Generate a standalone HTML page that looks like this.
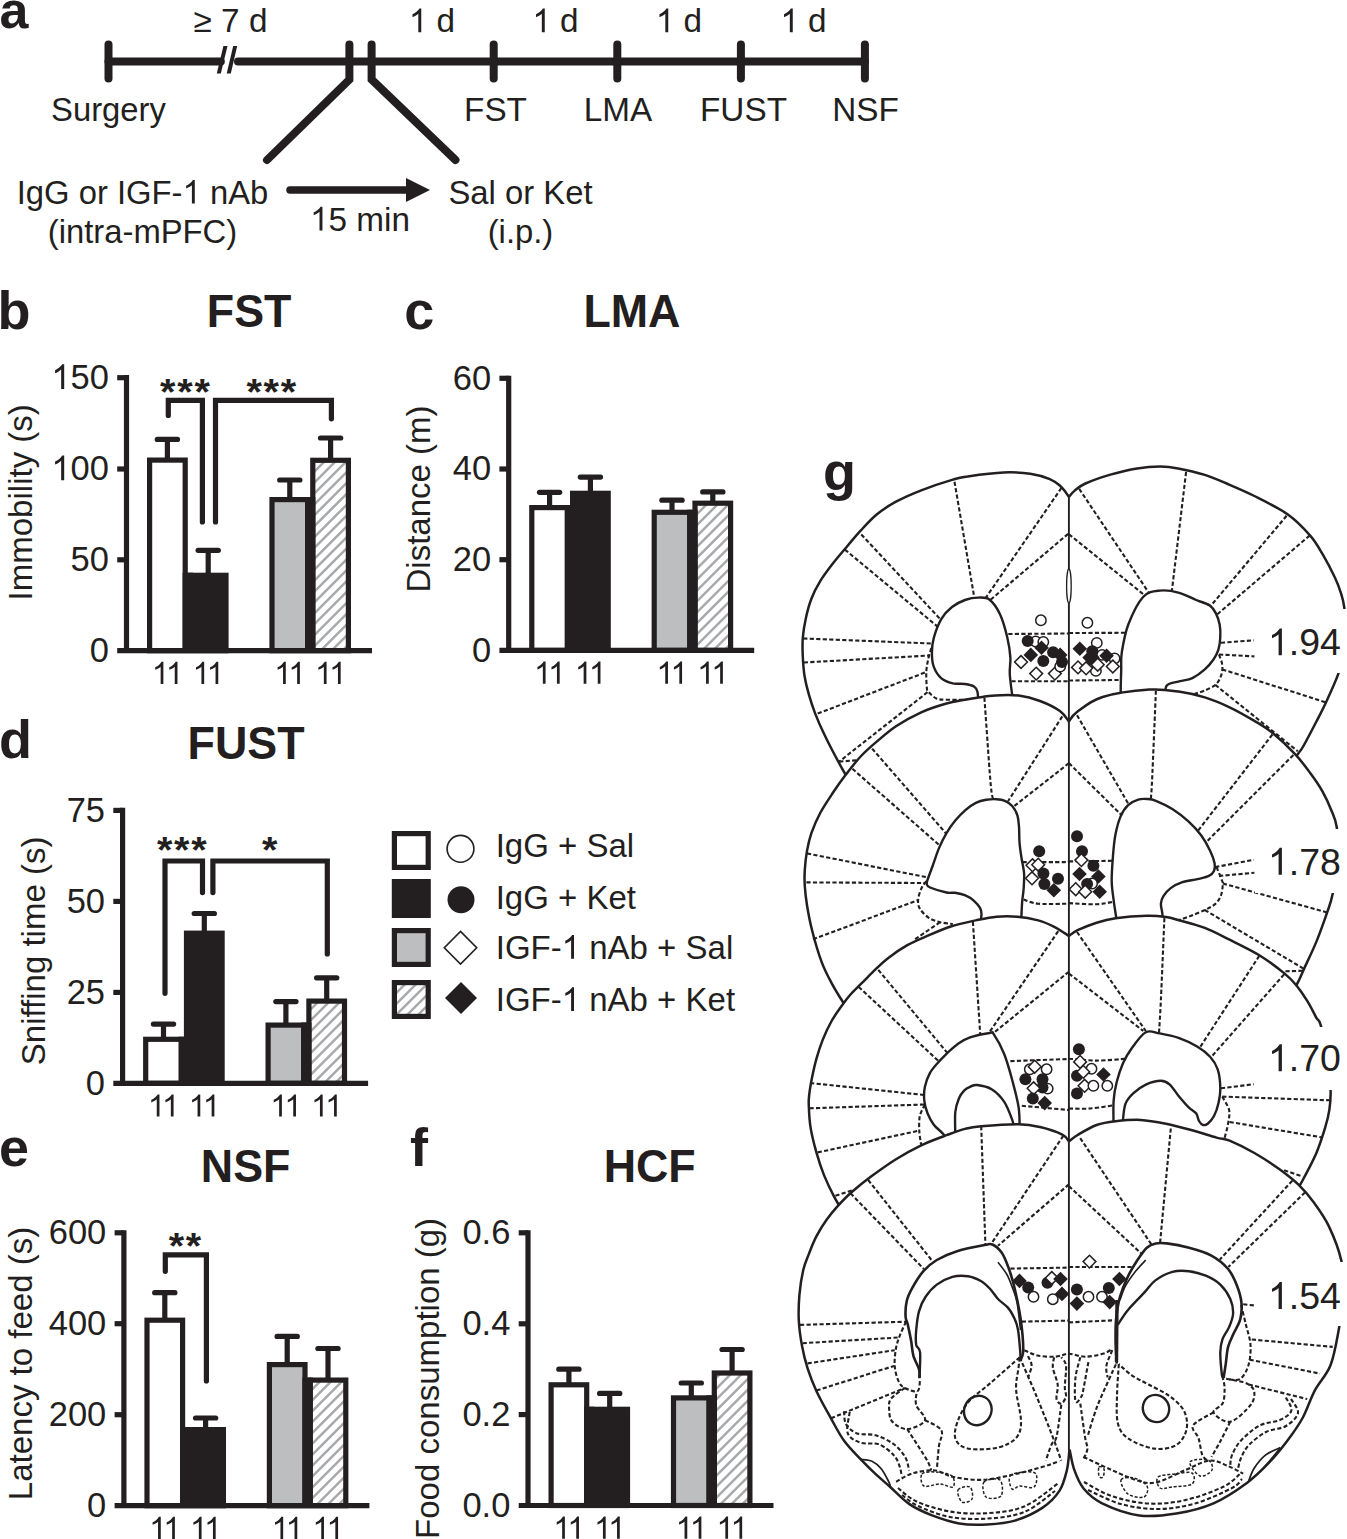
<!DOCTYPE html>
<html><head><meta charset="utf-8"><style>
html,body{margin:0;padding:0;background:#fff;overflow:hidden;}
svg{display:block;}
text{font-family:'Liberation Sans',sans-serif;white-space:pre;}
</style></head><body>
<svg width="1347" height="1539" viewBox="0 0 1347 1539">
<defs>
<pattern id="h" patternUnits="userSpaceOnUse" width="7.7" height="7.7" patternTransform="rotate(-45)">
<rect width="7.7" height="7.7" fill="#fff"/>
<line x1="0" y1="3.85" x2="7.7" y2="3.85" stroke="#a7a9ac" stroke-width="2.0"/>
</pattern>
</defs>
<rect width="1347" height="1539" fill="#fff"/>
<g stroke="#231f20" stroke-width="8" stroke-linecap="round" fill="none">
<line x1="108.5" y1="61.5" x2="220.8" y2="61.5" stroke-linecap="round"/>
<line x1="238" y1="61.5" x2="865" y2="61.5" stroke-linecap="round"/>
<line x1="108.5" y1="44.5" x2="108.5" y2="78.5"/>
<line x1="493.7" y1="44.5" x2="493.7" y2="78.5"/>
<line x1="617.3" y1="44.5" x2="617.3" y2="78.5"/>
<line x1="740.9" y1="44.5" x2="740.9" y2="78.5"/>
<line x1="864.9" y1="44.5" x2="864.9" y2="78.5"/>
<polyline points="349.4,44.5 349.4,79.5 267,160" stroke-linejoin="miter"/>
<polyline points="371.6,44.5 371.6,79.5 455.5,160" stroke-linejoin="miter"/>
<line x1="290" y1="190" x2="410" y2="190" stroke-width="7.5"/>
</g>
<polygon points="406,178 430,190 406,202" fill="#231f20"/>
<polygon points="223.4,46 227.5,46 220.8,73.6 216.8,73.6" fill="#231f20"/>
<polygon points="233.2,46 237.2,46 230.8,73.6 226.7,73.6" fill="#231f20"/>
<text x="-0.5" y="28.4" style="font-weight:bold;font-size:52px" fill="#231f20">a</text>
<text x="230.5" y="31.5" style="font-size:33.3px;" text-anchor="middle" fill="#231f20">&#8805; 7 d</text>
<path d="M763,0L583,0L583,1147C540,1106 483,1064 413,1023C343,982 280,952 223,933L223,1107C324,1154 412,1212 487,1279C562,1346 615,1412 646,1466L763,1466Z" transform="translate(408.85,32.30) scale(0.01626,-0.01626)" fill="#231f20"/>
<text x="427.37" y="32.3" style="font-size:33.3px;" fill="#231f20" xml:space="preserve"> d</text>
<path d="M763,0L583,0L583,1147C540,1106 483,1064 413,1023C343,982 280,952 223,933L223,1107C324,1154 412,1212 487,1279C562,1346 615,1412 646,1466L763,1466Z" transform="translate(532.35,32.30) scale(0.01626,-0.01626)" fill="#231f20"/>
<text x="550.87" y="32.3" style="font-size:33.3px;" fill="#231f20" xml:space="preserve"> d</text>
<path d="M763,0L583,0L583,1147C540,1106 483,1064 413,1023C343,982 280,952 223,933L223,1107C324,1154 412,1212 487,1279C562,1346 615,1412 646,1466L763,1466Z" transform="translate(655.85,32.30) scale(0.01626,-0.01626)" fill="#231f20"/>
<text x="674.37" y="32.3" style="font-size:33.3px;" fill="#231f20" xml:space="preserve"> d</text>
<path d="M763,0L583,0L583,1147C540,1106 483,1064 413,1023C343,982 280,952 223,933L223,1107C324,1154 412,1212 487,1279C562,1346 615,1412 646,1466L763,1466Z" transform="translate(780.35,32.30) scale(0.01626,-0.01626)" fill="#231f20"/>
<text x="798.87" y="32.3" style="font-size:33.3px;" fill="#231f20" xml:space="preserve"> d</text>
<text x="108.5" y="121.2" style="font-size:32.8px;" text-anchor="middle" fill="#231f20">Surgery</text>
<text x="495.5" y="121.2" style="font-size:33.3px;" text-anchor="middle" fill="#231f20">FST</text>
<text x="618.0" y="121.2" style="font-size:33.3px;" text-anchor="middle" fill="#231f20">LMA</text>
<text x="743.5" y="121.2" style="font-size:33.3px;" text-anchor="middle" fill="#231f20">FUST</text>
<text x="865.5" y="121.2" style="font-size:33.3px;" text-anchor="middle" fill="#231f20">NSF</text>
<text x="16.72" y="203.5" style="font-size:32.8px;" fill="#231f20" xml:space="preserve">IgG or IGF-</text>
<path d="M763,0L583,0L583,1147C540,1106 483,1064 413,1023C343,982 280,952 223,933L223,1107C324,1154 412,1212 487,1279C562,1346 615,1412 646,1466L763,1466Z" transform="translate(182.56,203.50) scale(0.01602,-0.01602)" fill="#231f20"/>
<text x="200.80" y="203.5" style="font-size:32.8px;" fill="#231f20" xml:space="preserve"> nAb</text>
<text x="142.5" y="243.3" style="font-size:32.8px;" text-anchor="middle" fill="#231f20">(intra-mPFC)</text>
<text x="520.5" y="203.5" style="font-size:32.8px;" text-anchor="middle" fill="#231f20">Sal or Ket</text>
<text x="520.5" y="243.3" style="font-size:32.8px;" text-anchor="middle" fill="#231f20">(i.p.)</text>
<path d="M763,0L583,0L583,1147C540,1106 483,1064 413,1023C343,982 280,952 223,933L223,1107C324,1154 412,1212 487,1279C562,1346 615,1412 646,1466L763,1466Z" transform="translate(310.03,230.50) scale(0.01626,-0.01626)" fill="#231f20"/>
<text x="328.55" y="230.5" style="font-size:33.3px;" fill="#231f20" xml:space="preserve">5 min</text>
<g stroke="#231f20" stroke-width="5.2" fill="none">
<line x1="126.5" y1="375.09999999999997" x2="126.5" y2="650.7"/>
<line x1="117.2" y1="377.7" x2="126.5" y2="377.7"/>
<line x1="117.2" y1="469" x2="126.5" y2="469"/>
<line x1="117.2" y1="559.8" x2="126.5" y2="559.8"/>
</g>
<g stroke="#231f20" stroke-width="5.2" fill="none">
<line x1="167.4" y1="460.5" x2="167.4" y2="439.4"/>
<line x1="157.3" y1="439.4" x2="177.5" y2="439.4" stroke-linecap="round"/>
<line x1="208.2" y1="575.7" x2="208.2" y2="550.3"/>
<line x1="198.1" y1="550.3" x2="218.3" y2="550.3" stroke-linecap="round"/>
<line x1="289.8" y1="500.0" x2="289.8" y2="480.0"/>
<line x1="279.7" y1="480.0" x2="299.9" y2="480.0" stroke-linecap="round"/>
<line x1="330.6" y1="460.7" x2="330.6" y2="438.0"/>
<line x1="320.5" y1="438.0" x2="340.7" y2="438.0" stroke-linecap="round"/>
</g>
<rect x="149.6" y="460.1" width="35.6" height="190.6" fill="#ffffff" stroke="#231f20" stroke-width="5.2"/>
<rect x="190.4" y="575.3" width="35.6" height="75.4" fill="#231f20" stroke="#231f20" stroke-width="5.2"/>
<rect x="272.0" y="499.6" width="35.6" height="151.1" fill="#bcbec0" stroke="#231f20" stroke-width="5.2"/>
<clipPath id="hc1"><rect x="312.80" y="460.30" width="35.60" height="190.40"/></clipPath>
<rect x="312.80" y="460.30" width="35.60" height="190.40" fill="#fff"/>
<path d="M67.90,652.70L262.30,458.30M78.80,652.70L273.20,458.30M89.70,652.70L284.10,458.30M100.60,652.70L295.00,458.30M111.50,652.70L305.90,458.30M122.40,652.70L316.80,458.30M133.30,652.70L327.70,458.30M144.20,652.70L338.60,458.30M155.10,652.70L349.50,458.30M166.00,652.70L360.40,458.30M176.90,652.70L371.30,458.30M187.80,652.70L382.20,458.30M198.70,652.70L393.10,458.30M209.60,652.70L404.00,458.30M220.50,652.70L414.90,458.30M231.40,652.70L425.80,458.30M242.30,652.70L436.70,458.30M253.20,652.70L447.60,458.30M264.10,652.70L458.50,458.30M275.00,652.70L469.40,458.30M285.90,652.70L480.30,458.30M296.80,652.70L491.20,458.30M307.70,652.70L502.10,458.30M318.60,652.70L513.00,458.30M329.50,652.70L523.90,458.30M340.40,652.70L534.80,458.30M351.30,652.70L545.70,458.30" stroke="#a7a9ac" stroke-width="2.5" fill="none" clip-path="url(#hc1)"/>
<rect x="312.8" y="460.3" width="35.6" height="190.4" fill="none" stroke="#231f20" stroke-width="5.2"/>
<rect x="182.60" y="572.70" width="10.40" height="78.00" fill="#231f20"/>
<rect x="305.00" y="497.00" width="10.40" height="153.70" fill="#231f20"/>
<line x1="117.2" y1="650.7" x2="372.0" y2="650.7" stroke="#231f20" stroke-width="5.2"/>
<path d="M763,0L583,0L583,1147C540,1106 483,1064 413,1023C343,982 280,952 223,933L223,1107C324,1154 412,1212 487,1279C562,1346 615,1412 646,1466L763,1466Z" transform="translate(51.34,388.90) scale(0.01685,-0.01685)" fill="#231f20"/>
<text x="70.53" y="388.9" style="font-size:34.5px;" fill="#231f20" xml:space="preserve">50</text>
<path d="M763,0L583,0L583,1147C540,1106 483,1064 413,1023C343,982 280,952 223,933L223,1107C324,1154 412,1212 487,1279C562,1346 615,1412 646,1466L763,1466Z" transform="translate(51.34,480.20) scale(0.01685,-0.01685)" fill="#231f20"/>
<text x="70.53" y="480.2" style="font-size:34.5px;" fill="#231f20" xml:space="preserve">00</text>
<text x="108.9" y="571.0" style="font-size:34.5px;" text-anchor="end" fill="#231f20">50</text>
<text x="108.9" y="661.9" style="font-size:34.5px;" text-anchor="end" fill="#231f20">0</text>
<path d="M763,0L583,0L583,1147C540,1106 483,1064 413,1023C343,982 280,952 223,933L223,1107C324,1154 412,1212 487,1279C562,1346 615,1412 646,1466L763,1466Z" transform="translate(151.82,684.00) scale(0.01514,-0.01514)" fill="#231f20"/>
<path d="M763,0L583,0L583,1147C540,1106 483,1064 413,1023C343,982 280,952 223,933L223,1107C324,1154 412,1212 487,1279C562,1346 615,1412 646,1466L763,1466Z" transform="translate(165.92,684.00) scale(0.01514,-0.01514)" fill="#231f20"/>
<path d="M763,0L583,0L583,1147C540,1106 483,1064 413,1023C343,982 280,952 223,933L223,1107C324,1154 412,1212 487,1279C562,1346 615,1412 646,1466L763,1466Z" transform="translate(192.62,684.00) scale(0.01514,-0.01514)" fill="#231f20"/>
<path d="M763,0L583,0L583,1147C540,1106 483,1064 413,1023C343,982 280,952 223,933L223,1107C324,1154 412,1212 487,1279C562,1346 615,1412 646,1466L763,1466Z" transform="translate(206.72,684.00) scale(0.01514,-0.01514)" fill="#231f20"/>
<path d="M763,0L583,0L583,1147C540,1106 483,1064 413,1023C343,982 280,952 223,933L223,1107C324,1154 412,1212 487,1279C562,1346 615,1412 646,1466L763,1466Z" transform="translate(274.22,684.00) scale(0.01514,-0.01514)" fill="#231f20"/>
<path d="M763,0L583,0L583,1147C540,1106 483,1064 413,1023C343,982 280,952 223,933L223,1107C324,1154 412,1212 487,1279C562,1346 615,1412 646,1466L763,1466Z" transform="translate(288.32,684.00) scale(0.01514,-0.01514)" fill="#231f20"/>
<path d="M763,0L583,0L583,1147C540,1106 483,1064 413,1023C343,982 280,952 223,933L223,1107C324,1154 412,1212 487,1279C562,1346 615,1412 646,1466L763,1466Z" transform="translate(315.02,684.00) scale(0.01514,-0.01514)" fill="#231f20"/>
<path d="M763,0L583,0L583,1147C540,1106 483,1064 413,1023C343,982 280,952 223,933L223,1107C324,1154 412,1212 487,1279C562,1346 615,1412 646,1466L763,1466Z" transform="translate(329.12,684.00) scale(0.01514,-0.01514)" fill="#231f20"/>
<text transform="translate(32.2,502.3) rotate(-90)" text-anchor="middle" style="font-size:33px" fill="#231f20">Immobility (s)</text>
<polyline points="168.3,415.5 168.3,400.3 202.4,400.3 202.4,522" fill="none" stroke="#231f20" stroke-width="5.2" stroke-linejoin="miter" stroke-linecap="round"/>
<polyline points="215.5,522 215.5,400.3 331.4,400.3 331.4,418.8" fill="none" stroke="#231f20" stroke-width="5.2" stroke-linejoin="miter" stroke-linecap="round"/>
<text transform="translate(167.80,404.69) scale(0.9,0.847)" text-anchor="middle" style="font-weight:bold;font-size:44px" fill="#231f20">*</text>
<text transform="translate(184.95,404.69) scale(0.9,0.847)" text-anchor="middle" style="font-weight:bold;font-size:44px" fill="#231f20">*</text>
<text transform="translate(202.10,404.69) scale(0.9,0.847)" text-anchor="middle" style="font-weight:bold;font-size:44px" fill="#231f20">*</text>
<text transform="translate(254.10,404.69) scale(0.9,0.847)" text-anchor="middle" style="font-weight:bold;font-size:44px" fill="#231f20">*</text>
<text transform="translate(271.25,404.69) scale(0.9,0.847)" text-anchor="middle" style="font-weight:bold;font-size:44px" fill="#231f20">*</text>
<text transform="translate(288.40,404.69) scale(0.9,0.847)" text-anchor="middle" style="font-weight:bold;font-size:44px" fill="#231f20">*</text>
<g stroke="#231f20" stroke-width="5.2" fill="none">
<line x1="508.7" y1="375.7" x2="508.7" y2="650.4"/>
<line x1="499.4" y1="378.3" x2="508.7" y2="378.3"/>
<line x1="499.4" y1="469" x2="508.7" y2="469"/>
<line x1="499.4" y1="559.7" x2="508.7" y2="559.7"/>
</g>
<g stroke="#231f20" stroke-width="5.2" fill="none">
<line x1="549.6" y1="508.0" x2="549.6" y2="492.3"/>
<line x1="539.5" y1="492.3" x2="559.7" y2="492.3" stroke-linecap="round"/>
<line x1="590.4" y1="493.7" x2="590.4" y2="477.1"/>
<line x1="580.3" y1="477.1" x2="600.5" y2="477.1" stroke-linecap="round"/>
<line x1="672.0" y1="512.7" x2="672.0" y2="500.2"/>
<line x1="661.9" y1="500.2" x2="682.1" y2="500.2" stroke-linecap="round"/>
<line x1="712.8" y1="503.6" x2="712.8" y2="491.9"/>
<line x1="702.7" y1="491.9" x2="722.9" y2="491.9" stroke-linecap="round"/>
</g>
<rect x="531.8" y="507.6" width="35.6" height="142.8" fill="#ffffff" stroke="#231f20" stroke-width="5.2"/>
<rect x="572.6" y="493.3" width="35.6" height="157.1" fill="#231f20" stroke="#231f20" stroke-width="5.2"/>
<rect x="654.2" y="512.3" width="35.6" height="138.1" fill="#bcbec0" stroke="#231f20" stroke-width="5.2"/>
<clipPath id="hc2"><rect x="695.00" y="503.20" width="35.60" height="147.20"/></clipPath>
<rect x="695.00" y="503.20" width="35.60" height="147.20" fill="#fff"/>
<path d="M493.30,652.40L644.50,501.20M504.20,652.40L655.40,501.20M515.10,652.40L666.30,501.20M526.00,652.40L677.20,501.20M536.90,652.40L688.10,501.20M547.80,652.40L699.00,501.20M558.70,652.40L709.90,501.20M569.60,652.40L720.80,501.20M580.50,652.40L731.70,501.20M591.40,652.40L742.60,501.20M602.30,652.40L753.50,501.20M613.20,652.40L764.40,501.20M624.10,652.40L775.30,501.20M635.00,652.40L786.20,501.20M645.90,652.40L797.10,501.20M656.80,652.40L808.00,501.20M667.70,652.40L818.90,501.20M678.60,652.40L829.80,501.20M689.50,652.40L840.70,501.20M700.40,652.40L851.60,501.20M711.30,652.40L862.50,501.20M722.20,652.40L873.40,501.20M733.10,652.40L884.30,501.20" stroke="#a7a9ac" stroke-width="2.5" fill="none" clip-path="url(#hc2)"/>
<rect x="695.0" y="503.2" width="35.6" height="147.2" fill="none" stroke="#231f20" stroke-width="5.2"/>
<rect x="564.80" y="505.00" width="10.40" height="145.40" fill="#231f20"/>
<rect x="687.20" y="509.70" width="10.40" height="140.70" fill="#231f20"/>
<line x1="499.4" y1="650.4" x2="754.2" y2="650.4" stroke="#231f20" stroke-width="5.2"/>
<text x="491.1" y="389.5" style="font-size:34.5px;" text-anchor="end" fill="#231f20">60</text>
<text x="491.1" y="480.2" style="font-size:34.5px;" text-anchor="end" fill="#231f20">40</text>
<text x="491.1" y="570.9" style="font-size:34.5px;" text-anchor="end" fill="#231f20">20</text>
<text x="491.1" y="661.6" style="font-size:34.5px;" text-anchor="end" fill="#231f20">0</text>
<path d="M763,0L583,0L583,1147C540,1106 483,1064 413,1023C343,982 280,952 223,933L223,1107C324,1154 412,1212 487,1279C562,1346 615,1412 646,1466L763,1466Z" transform="translate(534.02,683.70) scale(0.01514,-0.01514)" fill="#231f20"/>
<path d="M763,0L583,0L583,1147C540,1106 483,1064 413,1023C343,982 280,952 223,933L223,1107C324,1154 412,1212 487,1279C562,1346 615,1412 646,1466L763,1466Z" transform="translate(548.12,683.70) scale(0.01514,-0.01514)" fill="#231f20"/>
<path d="M763,0L583,0L583,1147C540,1106 483,1064 413,1023C343,982 280,952 223,933L223,1107C324,1154 412,1212 487,1279C562,1346 615,1412 646,1466L763,1466Z" transform="translate(574.82,683.70) scale(0.01514,-0.01514)" fill="#231f20"/>
<path d="M763,0L583,0L583,1147C540,1106 483,1064 413,1023C343,982 280,952 223,933L223,1107C324,1154 412,1212 487,1279C562,1346 615,1412 646,1466L763,1466Z" transform="translate(588.92,683.70) scale(0.01514,-0.01514)" fill="#231f20"/>
<path d="M763,0L583,0L583,1147C540,1106 483,1064 413,1023C343,982 280,952 223,933L223,1107C324,1154 412,1212 487,1279C562,1346 615,1412 646,1466L763,1466Z" transform="translate(656.42,683.70) scale(0.01514,-0.01514)" fill="#231f20"/>
<path d="M763,0L583,0L583,1147C540,1106 483,1064 413,1023C343,982 280,952 223,933L223,1107C324,1154 412,1212 487,1279C562,1346 615,1412 646,1466L763,1466Z" transform="translate(670.52,683.70) scale(0.01514,-0.01514)" fill="#231f20"/>
<path d="M763,0L583,0L583,1147C540,1106 483,1064 413,1023C343,982 280,952 223,933L223,1107C324,1154 412,1212 487,1279C562,1346 615,1412 646,1466L763,1466Z" transform="translate(697.22,683.70) scale(0.01514,-0.01514)" fill="#231f20"/>
<path d="M763,0L583,0L583,1147C540,1106 483,1064 413,1023C343,982 280,952 223,933L223,1107C324,1154 412,1212 487,1279C562,1346 615,1412 646,1466L763,1466Z" transform="translate(711.32,683.70) scale(0.01514,-0.01514)" fill="#231f20"/>
<text transform="translate(429.7,499) rotate(-90)" text-anchor="middle" style="font-size:33px" fill="#231f20">Distance (m)</text>
<g stroke="#231f20" stroke-width="5.2" fill="none">
<line x1="122.6" y1="807.8" x2="122.6" y2="1083.3"/>
<line x1="113.3" y1="810.4" x2="122.6" y2="810.4"/>
<line x1="113.3" y1="901.4" x2="122.6" y2="901.4"/>
<line x1="113.3" y1="992.4" x2="122.6" y2="992.4"/>
</g>
<g stroke="#231f20" stroke-width="5.2" fill="none">
<line x1="163.5" y1="1039.7" x2="163.5" y2="1024.1"/>
<line x1="153.4" y1="1024.1" x2="173.6" y2="1024.1" stroke-linecap="round"/>
<line x1="204.3" y1="933.6" x2="204.3" y2="913.5"/>
<line x1="194.2" y1="913.5" x2="214.4" y2="913.5" stroke-linecap="round"/>
<line x1="285.9" y1="1025.5" x2="285.9" y2="1001.6"/>
<line x1="275.8" y1="1001.6" x2="296.0" y2="1001.6" stroke-linecap="round"/>
<line x1="326.7" y1="1001.5" x2="326.7" y2="977.8"/>
<line x1="316.6" y1="977.8" x2="336.8" y2="977.8" stroke-linecap="round"/>
</g>
<rect x="145.7" y="1039.3" width="35.6" height="44.0" fill="#ffffff" stroke="#231f20" stroke-width="5.2"/>
<rect x="186.5" y="933.2" width="35.6" height="150.1" fill="#231f20" stroke="#231f20" stroke-width="5.2"/>
<rect x="268.1" y="1025.1" width="35.6" height="58.2" fill="#bcbec0" stroke="#231f20" stroke-width="5.2"/>
<clipPath id="hc3"><rect x="308.90" y="1001.10" width="35.60" height="82.20"/></clipPath>
<rect x="308.90" y="1001.10" width="35.60" height="82.20" fill="#fff"/>
<path d="M169.40,1085.30L255.60,999.10M180.30,1085.30L266.50,999.10M191.20,1085.30L277.40,999.10M202.10,1085.30L288.30,999.10M213.00,1085.30L299.20,999.10M223.90,1085.30L310.10,999.10M234.80,1085.30L321.00,999.10M245.70,1085.30L331.90,999.10M256.60,1085.30L342.80,999.10M267.50,1085.30L353.70,999.10M278.40,1085.30L364.60,999.10M289.30,1085.30L375.50,999.10M300.20,1085.30L386.40,999.10M311.10,1085.30L397.30,999.10M322.00,1085.30L408.20,999.10M332.90,1085.30L419.10,999.10M343.80,1085.30L430.00,999.10" stroke="#a7a9ac" stroke-width="2.5" fill="none" clip-path="url(#hc3)"/>
<rect x="308.9" y="1001.1" width="35.6" height="82.2" fill="none" stroke="#231f20" stroke-width="5.2"/>
<rect x="178.70" y="1036.70" width="10.40" height="46.60" fill="#231f20"/>
<rect x="301.10" y="1022.50" width="10.40" height="60.80" fill="#231f20"/>
<line x1="113.3" y1="1083.3" x2="368.1" y2="1083.3" stroke="#231f20" stroke-width="5.2"/>
<text x="105.0" y="821.6" style="font-size:34.5px;" text-anchor="end" fill="#231f20">75</text>
<text x="105.0" y="912.6" style="font-size:34.5px;" text-anchor="end" fill="#231f20">50</text>
<text x="105.0" y="1003.6" style="font-size:34.5px;" text-anchor="end" fill="#231f20">25</text>
<text x="105.0" y="1094.5" style="font-size:34.5px;" text-anchor="end" fill="#231f20">0</text>
<path d="M763,0L583,0L583,1147C540,1106 483,1064 413,1023C343,982 280,952 223,933L223,1107C324,1154 412,1212 487,1279C562,1346 615,1412 646,1466L763,1466Z" transform="translate(147.92,1116.60) scale(0.01514,-0.01514)" fill="#231f20"/>
<path d="M763,0L583,0L583,1147C540,1106 483,1064 413,1023C343,982 280,952 223,933L223,1107C324,1154 412,1212 487,1279C562,1346 615,1412 646,1466L763,1466Z" transform="translate(162.02,1116.60) scale(0.01514,-0.01514)" fill="#231f20"/>
<path d="M763,0L583,0L583,1147C540,1106 483,1064 413,1023C343,982 280,952 223,933L223,1107C324,1154 412,1212 487,1279C562,1346 615,1412 646,1466L763,1466Z" transform="translate(188.72,1116.60) scale(0.01514,-0.01514)" fill="#231f20"/>
<path d="M763,0L583,0L583,1147C540,1106 483,1064 413,1023C343,982 280,952 223,933L223,1107C324,1154 412,1212 487,1279C562,1346 615,1412 646,1466L763,1466Z" transform="translate(202.82,1116.60) scale(0.01514,-0.01514)" fill="#231f20"/>
<path d="M763,0L583,0L583,1147C540,1106 483,1064 413,1023C343,982 280,952 223,933L223,1107C324,1154 412,1212 487,1279C562,1346 615,1412 646,1466L763,1466Z" transform="translate(270.32,1116.60) scale(0.01514,-0.01514)" fill="#231f20"/>
<path d="M763,0L583,0L583,1147C540,1106 483,1064 413,1023C343,982 280,952 223,933L223,1107C324,1154 412,1212 487,1279C562,1346 615,1412 646,1466L763,1466Z" transform="translate(284.42,1116.60) scale(0.01514,-0.01514)" fill="#231f20"/>
<path d="M763,0L583,0L583,1147C540,1106 483,1064 413,1023C343,982 280,952 223,933L223,1107C324,1154 412,1212 487,1279C562,1346 615,1412 646,1466L763,1466Z" transform="translate(311.12,1116.60) scale(0.01514,-0.01514)" fill="#231f20"/>
<path d="M763,0L583,0L583,1147C540,1106 483,1064 413,1023C343,982 280,952 223,933L223,1107C324,1154 412,1212 487,1279C562,1346 615,1412 646,1466L763,1466Z" transform="translate(325.22,1116.60) scale(0.01514,-0.01514)" fill="#231f20"/>
<text transform="translate(44.8,950.9) rotate(-90)" text-anchor="middle" style="font-size:33px" fill="#231f20">Sniffing time (s)</text>
<polyline points="165,993.3 165,861 202.5,861 202.5,892.6" fill="none" stroke="#231f20" stroke-width="5.2" stroke-linejoin="miter" stroke-linecap="round"/>
<polyline points="212.9,892.6 212.9,861 327.3,861 327.3,953.9" fill="none" stroke="#231f20" stroke-width="5.2" stroke-linejoin="miter" stroke-linecap="round"/>
<text transform="translate(164.60,863.29) scale(0.9,0.847)" text-anchor="middle" style="font-weight:bold;font-size:44px" fill="#231f20">*</text>
<text transform="translate(181.75,863.29) scale(0.9,0.847)" text-anchor="middle" style="font-weight:bold;font-size:44px" fill="#231f20">*</text>
<text transform="translate(198.90,863.29) scale(0.9,0.847)" text-anchor="middle" style="font-weight:bold;font-size:44px" fill="#231f20">*</text>
<text transform="translate(269.80,863.29) scale(0.9,0.847)" text-anchor="middle" style="font-weight:bold;font-size:44px" fill="#231f20">*</text>
<g stroke="#231f20" stroke-width="5.2" fill="none">
<line x1="123.9" y1="1230.2" x2="123.9" y2="1505.7"/>
<line x1="114.60000000000001" y1="1232.8" x2="123.9" y2="1232.8"/>
<line x1="114.60000000000001" y1="1323.7" x2="123.9" y2="1323.7"/>
<line x1="114.60000000000001" y1="1414.7" x2="123.9" y2="1414.7"/>
</g>
<g stroke="#231f20" stroke-width="5.2" fill="none">
<line x1="164.8" y1="1320.6" x2="164.8" y2="1292.7"/>
<line x1="154.7" y1="1292.7" x2="174.9" y2="1292.7" stroke-linecap="round"/>
<line x1="205.6" y1="1430.0" x2="205.6" y2="1418.0"/>
<line x1="195.5" y1="1418.0" x2="215.7" y2="1418.0" stroke-linecap="round"/>
<line x1="287.2" y1="1365.0" x2="287.2" y2="1336.4"/>
<line x1="277.1" y1="1336.4" x2="297.3" y2="1336.4" stroke-linecap="round"/>
<line x1="328.0" y1="1380.5" x2="328.0" y2="1348.5"/>
<line x1="317.9" y1="1348.5" x2="338.1" y2="1348.5" stroke-linecap="round"/>
</g>
<rect x="147.0" y="1320.2" width="35.6" height="185.5" fill="#ffffff" stroke="#231f20" stroke-width="5.2"/>
<rect x="187.8" y="1429.6" width="35.6" height="76.1" fill="#231f20" stroke="#231f20" stroke-width="5.2"/>
<rect x="269.4" y="1364.6" width="35.6" height="141.1" fill="#bcbec0" stroke="#231f20" stroke-width="5.2"/>
<clipPath id="hc4"><rect x="310.20" y="1380.10" width="35.60" height="125.60"/></clipPath>
<rect x="310.20" y="1380.10" width="35.60" height="125.60" fill="#fff"/>
<path d="M128.50,1507.70L258.10,1378.10M139.40,1507.70L269.00,1378.10M150.30,1507.70L279.90,1378.10M161.20,1507.70L290.80,1378.10M172.10,1507.70L301.70,1378.10M183.00,1507.70L312.60,1378.10M193.90,1507.70L323.50,1378.10M204.80,1507.70L334.40,1378.10M215.70,1507.70L345.30,1378.10M226.60,1507.70L356.20,1378.10M237.50,1507.70L367.10,1378.10M248.40,1507.70L378.00,1378.10M259.30,1507.70L388.90,1378.10M270.20,1507.70L399.80,1378.10M281.10,1507.70L410.70,1378.10M292.00,1507.70L421.60,1378.10M302.90,1507.70L432.50,1378.10M313.80,1507.70L443.40,1378.10M324.70,1507.70L454.30,1378.10M335.60,1507.70L465.20,1378.10M346.50,1507.70L476.10,1378.10" stroke="#a7a9ac" stroke-width="2.5" fill="none" clip-path="url(#hc4)"/>
<rect x="310.2" y="1380.1" width="35.6" height="125.6" fill="none" stroke="#231f20" stroke-width="5.2"/>
<rect x="180.00" y="1427.00" width="10.40" height="78.70" fill="#231f20"/>
<rect x="302.40" y="1377.50" width="10.40" height="128.20" fill="#231f20"/>
<line x1="114.60000000000001" y1="1505.7" x2="369.4" y2="1505.7" stroke="#231f20" stroke-width="5.2"/>
<text x="106.3" y="1244.0" style="font-size:34.5px;" text-anchor="end" fill="#231f20">600</text>
<text x="106.3" y="1334.9" style="font-size:34.5px;" text-anchor="end" fill="#231f20">400</text>
<text x="106.3" y="1425.9" style="font-size:34.5px;" text-anchor="end" fill="#231f20">200</text>
<text x="106.3" y="1516.9" style="font-size:34.5px;" text-anchor="end" fill="#231f20">0</text>
<path d="M763,0L583,0L583,1147C540,1106 483,1064 413,1023C343,982 280,952 223,933L223,1107C324,1154 412,1212 487,1279C562,1346 615,1412 646,1466L763,1466Z" transform="translate(149.22,1539.00) scale(0.01514,-0.01514)" fill="#231f20"/>
<path d="M763,0L583,0L583,1147C540,1106 483,1064 413,1023C343,982 280,952 223,933L223,1107C324,1154 412,1212 487,1279C562,1346 615,1412 646,1466L763,1466Z" transform="translate(163.32,1539.00) scale(0.01514,-0.01514)" fill="#231f20"/>
<path d="M763,0L583,0L583,1147C540,1106 483,1064 413,1023C343,982 280,952 223,933L223,1107C324,1154 412,1212 487,1279C562,1346 615,1412 646,1466L763,1466Z" transform="translate(190.02,1539.00) scale(0.01514,-0.01514)" fill="#231f20"/>
<path d="M763,0L583,0L583,1147C540,1106 483,1064 413,1023C343,982 280,952 223,933L223,1107C324,1154 412,1212 487,1279C562,1346 615,1412 646,1466L763,1466Z" transform="translate(204.12,1539.00) scale(0.01514,-0.01514)" fill="#231f20"/>
<path d="M763,0L583,0L583,1147C540,1106 483,1064 413,1023C343,982 280,952 223,933L223,1107C324,1154 412,1212 487,1279C562,1346 615,1412 646,1466L763,1466Z" transform="translate(271.62,1539.00) scale(0.01514,-0.01514)" fill="#231f20"/>
<path d="M763,0L583,0L583,1147C540,1106 483,1064 413,1023C343,982 280,952 223,933L223,1107C324,1154 412,1212 487,1279C562,1346 615,1412 646,1466L763,1466Z" transform="translate(285.72,1539.00) scale(0.01514,-0.01514)" fill="#231f20"/>
<path d="M763,0L583,0L583,1147C540,1106 483,1064 413,1023C343,982 280,952 223,933L223,1107C324,1154 412,1212 487,1279C562,1346 615,1412 646,1466L763,1466Z" transform="translate(312.42,1539.00) scale(0.01514,-0.01514)" fill="#231f20"/>
<path d="M763,0L583,0L583,1147C540,1106 483,1064 413,1023C343,982 280,952 223,933L223,1107C324,1154 412,1212 487,1279C562,1346 615,1412 646,1466L763,1466Z" transform="translate(326.52,1539.00) scale(0.01514,-0.01514)" fill="#231f20"/>
<text transform="translate(31.8,1363.5) rotate(-90)" text-anchor="middle" style="font-size:33px" fill="#231f20">Latency to feed (s)</text>
<polyline points="165.3,1271.3 165.3,1254.9 206.4,1254.9 206.4,1381" fill="none" stroke="#231f20" stroke-width="5.2" stroke-linejoin="miter" stroke-linecap="round"/>
<text transform="translate(176.38,1259.49) scale(0.9,0.847)" text-anchor="middle" style="font-weight:bold;font-size:44px" fill="#231f20">*</text>
<text transform="translate(193.53,1259.49) scale(0.9,0.847)" text-anchor="middle" style="font-weight:bold;font-size:44px" fill="#231f20">*</text>
<g stroke="#231f20" stroke-width="5.2" fill="none">
<line x1="528" y1="1230.2" x2="528" y2="1505.5"/>
<line x1="518.7" y1="1232.8" x2="528" y2="1232.8"/>
<line x1="518.7" y1="1323.8" x2="528" y2="1323.8"/>
<line x1="518.7" y1="1414.6" x2="528" y2="1414.6"/>
</g>
<g stroke="#231f20" stroke-width="5.2" fill="none">
<line x1="568.9" y1="1385.2" x2="568.9" y2="1369.2"/>
<line x1="558.8" y1="1369.2" x2="579.0" y2="1369.2" stroke-linecap="round"/>
<line x1="609.7" y1="1409.7" x2="609.7" y2="1393.4"/>
<line x1="599.6" y1="1393.4" x2="619.8" y2="1393.4" stroke-linecap="round"/>
<line x1="691.3" y1="1398.3" x2="691.3" y2="1383.0"/>
<line x1="681.2" y1="1383.0" x2="701.4" y2="1383.0" stroke-linecap="round"/>
<line x1="732.1" y1="1373.4" x2="732.1" y2="1349.5"/>
<line x1="722.0" y1="1349.5" x2="742.2" y2="1349.5" stroke-linecap="round"/>
</g>
<rect x="551.1" y="1384.8" width="35.6" height="120.7" fill="#ffffff" stroke="#231f20" stroke-width="5.2"/>
<rect x="591.9" y="1409.3" width="35.6" height="96.2" fill="#231f20" stroke="#231f20" stroke-width="5.2"/>
<rect x="673.5" y="1397.9" width="35.6" height="107.6" fill="#bcbec0" stroke="#231f20" stroke-width="5.2"/>
<clipPath id="hc5"><rect x="714.30" y="1373.00" width="35.60" height="132.50"/></clipPath>
<rect x="714.30" y="1373.00" width="35.60" height="132.50" fill="#fff"/>
<path d="M521.10,1507.50L657.60,1371.00M532.00,1507.50L668.50,1371.00M542.90,1507.50L679.40,1371.00M553.80,1507.50L690.30,1371.00M564.70,1507.50L701.20,1371.00M575.60,1507.50L712.10,1371.00M586.50,1507.50L723.00,1371.00M597.40,1507.50L733.90,1371.00M608.30,1507.50L744.80,1371.00M619.20,1507.50L755.70,1371.00M630.10,1507.50L766.60,1371.00M641.00,1507.50L777.50,1371.00M651.90,1507.50L788.40,1371.00M662.80,1507.50L799.30,1371.00M673.70,1507.50L810.20,1371.00M684.60,1507.50L821.10,1371.00M695.50,1507.50L832.00,1371.00M706.40,1507.50L842.90,1371.00M717.30,1507.50L853.80,1371.00M728.20,1507.50L864.70,1371.00M739.10,1507.50L875.60,1371.00M750.00,1507.50L886.50,1371.00" stroke="#a7a9ac" stroke-width="2.5" fill="none" clip-path="url(#hc5)"/>
<rect x="714.3" y="1373.0" width="35.6" height="132.5" fill="none" stroke="#231f20" stroke-width="5.2"/>
<rect x="584.10" y="1406.70" width="10.40" height="98.80" fill="#231f20"/>
<rect x="706.50" y="1395.30" width="10.40" height="110.20" fill="#231f20"/>
<line x1="518.7" y1="1505.5" x2="773.5" y2="1505.5" stroke="#231f20" stroke-width="5.2"/>
<text x="510.4" y="1244.0" style="font-size:34.5px;" text-anchor="end" fill="#231f20">0.6</text>
<text x="510.4" y="1335.0" style="font-size:34.5px;" text-anchor="end" fill="#231f20">0.4</text>
<text x="510.4" y="1425.8" style="font-size:34.5px;" text-anchor="end" fill="#231f20">0.2</text>
<text x="510.4" y="1516.7" style="font-size:34.5px;" text-anchor="end" fill="#231f20">0.0</text>
<path d="M763,0L583,0L583,1147C540,1106 483,1064 413,1023C343,982 280,952 223,933L223,1107C324,1154 412,1212 487,1279C562,1346 615,1412 646,1466L763,1466Z" transform="translate(553.32,1538.80) scale(0.01514,-0.01514)" fill="#231f20"/>
<path d="M763,0L583,0L583,1147C540,1106 483,1064 413,1023C343,982 280,952 223,933L223,1107C324,1154 412,1212 487,1279C562,1346 615,1412 646,1466L763,1466Z" transform="translate(567.42,1538.80) scale(0.01514,-0.01514)" fill="#231f20"/>
<path d="M763,0L583,0L583,1147C540,1106 483,1064 413,1023C343,982 280,952 223,933L223,1107C324,1154 412,1212 487,1279C562,1346 615,1412 646,1466L763,1466Z" transform="translate(594.12,1538.80) scale(0.01514,-0.01514)" fill="#231f20"/>
<path d="M763,0L583,0L583,1147C540,1106 483,1064 413,1023C343,982 280,952 223,933L223,1107C324,1154 412,1212 487,1279C562,1346 615,1412 646,1466L763,1466Z" transform="translate(608.22,1538.80) scale(0.01514,-0.01514)" fill="#231f20"/>
<path d="M763,0L583,0L583,1147C540,1106 483,1064 413,1023C343,982 280,952 223,933L223,1107C324,1154 412,1212 487,1279C562,1346 615,1412 646,1466L763,1466Z" transform="translate(675.72,1538.80) scale(0.01514,-0.01514)" fill="#231f20"/>
<path d="M763,0L583,0L583,1147C540,1106 483,1064 413,1023C343,982 280,952 223,933L223,1107C324,1154 412,1212 487,1279C562,1346 615,1412 646,1466L763,1466Z" transform="translate(689.82,1538.80) scale(0.01514,-0.01514)" fill="#231f20"/>
<path d="M763,0L583,0L583,1147C540,1106 483,1064 413,1023C343,982 280,952 223,933L223,1107C324,1154 412,1212 487,1279C562,1346 615,1412 646,1466L763,1466Z" transform="translate(716.52,1538.80) scale(0.01514,-0.01514)" fill="#231f20"/>
<path d="M763,0L583,0L583,1147C540,1106 483,1064 413,1023C343,982 280,952 223,933L223,1107C324,1154 412,1212 487,1279C562,1346 615,1412 646,1466L763,1466Z" transform="translate(730.62,1538.80) scale(0.01514,-0.01514)" fill="#231f20"/>
<text transform="translate(439.3,1378.4) rotate(-90)" text-anchor="middle" style="font-size:33px" fill="#231f20">Food consumption (g)</text>
<text transform="translate(249.1,326.8) scale(1,1.03)" text-anchor="middle" style="font-weight:bold;font-size:44.8px" fill="#231f20">FST</text>
<text transform="translate(631.9,326.8) scale(1,1.03)" text-anchor="middle" style="font-weight:bold;font-size:44.8px" fill="#231f20">LMA</text>
<text transform="translate(246.1,758.8) scale(1,1.03)" text-anchor="middle" style="font-weight:bold;font-size:44.8px" fill="#231f20">FUST</text>
<text transform="translate(245.6,1181.8) scale(1,1.03)" text-anchor="middle" style="font-weight:bold;font-size:44.8px" fill="#231f20">NSF</text>
<text transform="translate(649.7,1181.8) scale(1,1.03)" text-anchor="middle" style="font-weight:bold;font-size:44.8px" fill="#231f20">HCF</text>
<text x="-2.4" y="328.6" style="font-weight:bold;font-size:54px" fill="#231f20">b</text>
<text x="404.2" y="328.6" style="font-weight:bold;font-size:54px" fill="#231f20">c</text>
<text x="-1.1" y="757.5" style="font-weight:bold;font-size:54px" fill="#231f20">d</text>
<text x="-1.1" y="1165.5" style="font-weight:bold;font-size:54px" fill="#231f20">e</text>
<text x="410.0" y="1165.5" style="font-weight:bold;font-size:54px" fill="#231f20">f</text>
<text x="823.0999999999999" y="490" style="font-weight:bold;font-size:54px" fill="#231f20">g</text>
<rect x="394.40000000000003" y="833.6" width="33.8" height="33.8" fill="#ffffff" stroke="#231f20" stroke-width="5.2"/>
<rect x="394.40000000000003" y="881.6" width="33.8" height="33.8" fill="#231f20" stroke="#231f20" stroke-width="5.2"/>
<rect x="394.40000000000003" y="930.6" width="33.8" height="33.8" fill="#bcbec0" stroke="#231f20" stroke-width="5.2"/>
<clipPath id="hc6"><rect x="394.40" y="982.60" width="33.80" height="33.80"/></clipPath>
<rect x="394.40" y="982.60" width="33.80" height="33.80" fill="#fff"/>
<path d="M294.60,1018.40L332.40,980.60M305.50,1018.40L343.30,980.60M316.40,1018.40L354.20,980.60M327.30,1018.40L365.10,980.60M338.20,1018.40L376.00,980.60M349.10,1018.40L386.90,980.60M360.00,1018.40L397.80,980.60M370.90,1018.40L408.70,980.60M381.80,1018.40L419.60,980.60M392.70,1018.40L430.50,980.60M403.60,1018.40L441.40,980.60M414.50,1018.40L452.30,980.60M425.40,1018.40L463.20,980.60M436.30,1018.40L474.10,980.60" stroke="#a7a9ac" stroke-width="2.5" fill="none" clip-path="url(#hc6)"/>
<rect x="394.40000000000003" y="982.6" width="33.8" height="33.8" fill="none" stroke="#231f20" stroke-width="5.2"/>
<circle cx="460.5" cy="848.8" r="13.4" fill="#fff" stroke="#231f20" stroke-width="1.6"/>
<circle cx="461" cy="899.7" r="13.5" fill="#231f20"/>
<polygon points="460.5,931.4 476.7,947.7 460.5,964 444.3,947.7" fill="#fff" stroke="#231f20" stroke-width="1.6"/>
<polygon points="461,982 477,998 461,1014 445,998" fill="#231f20"/>
<text x="495.7" y="857.1" style="font-size:33px;" text-anchor="start" fill="#231f20">IgG + Sal</text>
<text x="495.7" y="909.3" style="font-size:33px;" text-anchor="start" fill="#231f20">IgG + Ket</text>
<text x="495.73" y="958.7" style="font-size:33px;" fill="#231f20" xml:space="preserve">IGF-</text>
<path d="M763,0L583,0L583,1147C540,1106 483,1064 413,1023C343,982 280,952 223,933L223,1107C324,1154 412,1212 487,1279C562,1346 615,1412 646,1466L763,1466Z" transform="translate(561.71,958.70) scale(0.01611,-0.01611)" fill="#231f20"/>
<text x="580.07" y="958.7" style="font-size:33px;" fill="#231f20" xml:space="preserve"> nAb + Sal</text>
<text x="495.73" y="1010.9" style="font-size:33px;" fill="#231f20" xml:space="preserve">IGF-</text>
<path d="M763,0L583,0L583,1147C540,1106 483,1064 413,1023C343,982 280,952 223,933L223,1107C324,1154 412,1212 487,1279C562,1346 615,1412 646,1466L763,1466Z" transform="translate(561.71,1010.90) scale(0.01611,-0.01611)" fill="#231f20"/>
<text x="580.07" y="1010.9" style="font-size:33px;" fill="#231f20" xml:space="preserve"> nAb + Ket</text>
<path d="M852.0,786.0C850.3,783.0 844.9,773.6 841.7,767.9C838.5,762.1 835.9,757.2 832.9,751.5C829.9,745.8 827.0,740.1 824.0,733.8C821.0,727.5 817.7,720.1 815.2,713.6C812.7,707.1 810.7,701.0 808.9,694.7C807.1,688.4 805.5,682.0 804.5,675.7C803.5,669.4 803.1,663.1 802.8,656.8C802.5,650.5 802.3,644.2 802.8,637.9C803.3,631.6 804.3,625.4 805.7,618.9C807.1,612.4 809.0,605.1 811.4,598.8C813.8,592.5 816.6,587.1 820.2,581.2C823.8,575.3 828.7,569.0 832.9,563.5C837.1,558.0 840.9,553.8 845.5,548.3C850.1,542.8 855.4,536.4 860.6,530.7C865.9,525.0 871.1,519.1 877.0,514.3C882.9,509.5 888.6,505.7 896.0,501.7C903.4,497.7 911.7,494.0 921.2,490.3C930.7,486.6 945.0,481.9 952.8,479.6C960.6,477.3 959.3,477.6 967.8,476.4C976.2,475.2 993.1,472.9 1003.5,472.5C1013.9,472.1 1022.5,472.6 1030.2,473.7C1037.9,474.8 1044.8,477.0 1049.8,479.1C1054.8,481.2 1057.8,484.0 1060.5,486.2C1063.2,488.4 1064.4,490.6 1065.8,492.4C1067.2,494.2 1068.4,496.1 1068.9,496.9L1068.9,496.9C1069.9,495.8 1072.0,492.8 1074.7,490.6C1077.5,488.4 1079.5,486.2 1085.4,483.5C1091.4,480.8 1101.8,477.1 1110.4,474.6C1119.0,472.1 1128.8,469.7 1137.1,468.4C1145.4,467.1 1153.5,466.6 1160.3,466.6C1167.1,466.6 1170.7,467.0 1178.1,468.4C1185.5,469.8 1196.2,472.2 1204.8,474.9C1213.4,477.6 1221.3,481.3 1229.6,484.8C1237.9,488.3 1244.7,491.1 1254.4,496.0C1264.1,500.9 1278.6,507.9 1287.9,514.5C1297.2,521.1 1304.4,529.0 1310.2,535.6C1316.0,542.2 1318.5,547.2 1322.6,554.2C1326.7,561.2 1331.9,571.2 1335.0,577.8C1338.1,584.4 1339.7,588.9 1341.2,593.9C1342.8,598.9 1343.5,601.5 1344.3,607.5C1345.1,613.5 1346.2,622.1 1346.0,630.0C1345.8,637.9 1344.3,647.6 1343.0,655.0C1341.7,662.4 1340.9,666.6 1338.1,674.4C1335.3,682.2 1329.9,693.9 1326.3,701.7C1322.7,709.6 1320.1,714.3 1316.4,721.5C1312.7,728.7 1306.9,739.8 1304.0,745.0C1301.1,750.2 1301.5,749.0 1299.0,752.5C1296.5,756.0 1290.7,763.8 1289.0,766.0Z" fill="#fff" stroke="none"/>
<path d="M1068.9,496.9C1068.4,496.1 1067.2,494.2 1065.8,492.4C1064.4,490.6 1063.2,488.4 1060.5,486.2C1057.8,484.0 1054.8,481.2 1049.8,479.1C1044.8,477.0 1037.9,474.8 1030.2,473.7C1022.5,472.6 1013.9,472.1 1003.5,472.5C993.1,472.9 976.2,475.2 967.8,476.4C959.3,477.6 960.6,477.3 952.8,479.6C945.0,481.9 930.7,486.6 921.2,490.3C911.7,494.0 903.4,497.7 896.0,501.7C888.6,505.7 882.9,509.5 877.0,514.3C871.1,519.1 865.9,525.0 860.6,530.7C855.4,536.4 850.1,542.8 845.5,548.3C840.9,553.8 837.1,558.0 832.9,563.5C828.7,569.0 823.8,575.3 820.2,581.2C816.6,587.1 813.8,592.5 811.4,598.8C809.0,605.1 807.1,612.4 805.7,618.9C804.3,625.4 803.3,631.6 802.8,637.9C802.3,644.2 802.5,650.5 802.8,656.8C803.1,663.1 803.5,669.4 804.5,675.7C805.5,682.0 807.1,688.4 808.9,694.7C810.7,701.0 812.7,707.1 815.2,713.6C817.7,720.1 821.0,727.5 824.0,733.8C827.0,740.1 829.9,745.8 832.9,751.5C835.9,757.2 838.5,762.1 841.7,767.9C844.9,773.6 850.3,783.0 852.0,786.0" fill="none" stroke="#231f20" stroke-width="2.5"/>
<path d="M1068.9,496.9C1069.9,495.8 1072.0,492.8 1074.7,490.6C1077.5,488.4 1079.5,486.2 1085.4,483.5C1091.4,480.8 1101.8,477.1 1110.4,474.6C1119.0,472.1 1128.8,469.7 1137.1,468.4C1145.4,467.1 1153.5,466.6 1160.3,466.6C1167.1,466.6 1170.7,467.0 1178.1,468.4C1185.5,469.8 1196.2,472.2 1204.8,474.9C1213.4,477.6 1221.3,481.3 1229.6,484.8C1237.9,488.3 1244.7,491.1 1254.4,496.0C1264.1,500.9 1278.6,507.9 1287.9,514.5C1297.2,521.1 1304.4,529.0 1310.2,535.6C1316.0,542.2 1318.5,547.2 1322.6,554.2C1326.7,561.2 1331.9,571.2 1335.0,577.8C1338.1,584.4 1339.7,588.9 1341.2,593.9C1342.8,598.9 1343.5,601.5 1344.3,607.5C1345.1,613.5 1346.2,622.1 1346.0,630.0C1345.8,637.9 1344.3,647.6 1343.0,655.0C1341.7,662.4 1340.9,666.6 1338.1,674.4C1335.3,682.2 1329.9,693.9 1326.3,701.7C1322.7,709.6 1320.1,714.3 1316.4,721.5C1312.7,728.7 1306.9,739.8 1304.0,745.0C1301.1,750.2 1301.5,749.0 1299.0,752.5C1296.5,756.0 1290.7,763.8 1289.0,766.0" fill="none" stroke="#231f20" stroke-width="2.5"/>
<line x1="1068.9" y1="496.9" x2="1068.9" y2="760" stroke="#231f20" stroke-width="1.9"/>
<ellipse cx="1068.9" cy="586" rx="2.3" ry="17" fill="#fff" stroke="#231f20" stroke-width="1.3"/>
<path d="M978.5,705.0C978.3,702.8 978.2,695.1 977.5,692.0C976.8,688.9 976.1,687.8 974.0,686.5C971.9,685.2 968.5,684.5 965.0,684.0C961.5,683.5 956.7,684.2 952.8,683.3C948.9,682.3 944.6,681.0 941.4,678.3C938.2,675.6 935.4,671.1 933.8,666.9C932.2,662.7 931.9,657.8 931.9,653.0C931.9,648.2 932.2,643.6 933.8,637.9C935.4,632.2 938.4,624.0 941.4,618.9C944.4,613.8 948.1,610.1 952.0,607.0C955.9,603.9 960.6,601.6 965.0,600.0C969.4,598.4 974.0,597.6 978.1,597.6C982.2,597.6 986.0,596.9 989.6,599.7C993.2,602.5 997.1,608.0 1000.0,614.2C1002.9,620.4 1005.5,629.8 1007.2,637.1C1008.9,644.4 1010.0,651.7 1010.4,657.9C1010.8,664.1 1009.3,666.6 1009.8,674.5C1010.3,682.4 1012.9,699.9 1013.5,705.0" fill="none" stroke="#231f20" stroke-width="2.4" stroke-linejoin="round"/>
<path d="M1121.0,705.0C1121.0,702.6 1120.7,696.6 1120.7,690.8C1120.7,685.0 1121.0,676.4 1121.2,670.0C1121.4,663.6 1120.6,659.9 1121.8,652.4C1123.0,644.9 1124.7,633.9 1128.2,624.7C1131.8,615.5 1137.8,602.7 1143.1,597.0C1148.4,591.3 1154.1,591.3 1160.1,590.6C1166.1,589.9 1173.3,591.2 1179.3,592.8C1185.3,594.4 1191.0,597.9 1196.1,600.0C1201.2,602.1 1206.5,603.2 1209.8,605.5C1213.1,607.8 1214.3,610.4 1216.0,613.6C1217.7,616.8 1219.0,620.9 1219.7,624.8C1220.4,628.7 1220.5,633.1 1220.3,637.2C1220.1,641.3 1219.5,645.9 1218.4,649.6C1217.3,653.3 1215.8,656.2 1213.5,659.5C1211.2,662.8 1208.3,666.3 1204.8,669.4C1201.3,672.5 1196.5,676.1 1192.4,678.1C1188.3,680.1 1183.9,680.2 1180.0,681.2C1176.1,682.2 1171.4,682.7 1169.0,684.0C1166.6,685.3 1166.2,685.5 1165.5,689.0C1164.8,692.5 1165.1,702.3 1165.0,705.0" fill="none" stroke="#231f20" stroke-width="2.4" stroke-linejoin="round"/>
<path d="M954.5,481.7L974.2,597.0" fill="none" stroke="#231f20" stroke-width="2.1" stroke-dasharray="4.2,2.3"/>
<path d="M1061.4,488.0L985.9,597.6" fill="none" stroke="#231f20" stroke-width="2.1" stroke-dasharray="4.2,2.3"/>
<path d="M990.6,599.7L1068.9,533.2" fill="none" stroke="#231f20" stroke-width="2.1" stroke-dasharray="4.2,2.3"/>
<path d="M861.3,534.5L940.1,619.0" fill="none" stroke="#231f20" stroke-width="2.1" stroke-dasharray="4.2,2.3"/>
<path d="M844.9,549.6L937.6,626.6" fill="none" stroke="#231f20" stroke-width="2.1" stroke-dasharray="4.2,2.3"/>
<path d="M803.2,638.5L932.6,643.5" fill="none" stroke="#231f20" stroke-width="2.1" stroke-dasharray="4.2,2.3"/>
<path d="M803.8,662.5L930.0,655.5" fill="none" stroke="#231f20" stroke-width="2.1" stroke-dasharray="4.2,2.3"/>
<path d="M817.7,713.6L926.3,672.0" fill="none" stroke="#231f20" stroke-width="2.1" stroke-dasharray="4.2,2.3"/>
<path d="M931.3,648.0C930.8,649.9 929.0,655.3 928.2,659.3C927.4,663.3 926.5,667.2 926.3,672.0C926.1,676.8 926.5,684.9 926.9,688.3C927.3,691.7 927.2,690.5 928.8,692.2C930.4,693.9 933.4,697.2 936.4,698.5C939.4,699.8 941.7,699.5 946.5,699.7C951.3,699.9 959.8,700.0 965.0,699.7C970.2,699.4 975.8,698.3 978.0,698.0" fill="none" stroke="#231f20" stroke-width="2.1" stroke-dasharray="4.2,2.3"/>
<path d="M927.5,692.2L839.2,761.6" fill="none" stroke="#231f20" stroke-width="2.1" stroke-dasharray="4.2,2.3"/>
<path d="M839.2,761.6L856.9,760.3" fill="none" stroke="#231f20" stroke-width="2.1" stroke-dasharray="4.2,2.3"/>
<path d="M1008.3,634.0L1068.9,633.5" fill="none" stroke="#231f20" stroke-width="2.1" stroke-dasharray="4.2,2.3"/>
<path d="M1011.4,681.2L1068.9,681.2" fill="none" stroke="#231f20" stroke-width="2.1" stroke-dasharray="4.2,2.3"/>
<path d="M1079.2,488.9L1149.0,593.0" fill="none" stroke="#231f20" stroke-width="2.1" stroke-dasharray="4.2,2.3"/>
<path d="M1068.9,534.2L1144.2,594.9" fill="none" stroke="#231f20" stroke-width="2.1" stroke-dasharray="4.2,2.3"/>
<path d="M1186.1,471.9L1171.9,590.6" fill="none" stroke="#231f20" stroke-width="2.1" stroke-dasharray="4.2,2.3"/>
<path d="M1286.6,515.8L1210.4,606.3" fill="none" stroke="#231f20" stroke-width="2.1" stroke-dasharray="4.2,2.3"/>
<path d="M1309.6,535.6L1217.2,614.4" fill="none" stroke="#231f20" stroke-width="2.1" stroke-dasharray="4.2,2.3"/>
<path d="M1220.9,642.8L1253.8,640.3" fill="none" stroke="#231f20" stroke-width="2.1" stroke-dasharray="4.2,2.3"/>
<path d="M1219.0,654.5L1254.4,656.4" fill="none" stroke="#231f20" stroke-width="2.1" stroke-dasharray="4.2,2.3"/>
<path d="M1219.0,654.5C1219.5,656.2 1221.8,661.2 1222.2,664.5C1222.6,667.8 1222.5,671.1 1221.5,674.4C1220.5,677.7 1218.8,681.6 1216.0,684.3C1213.2,687.0 1208.3,689.0 1204.8,690.5C1201.3,692.0 1196.6,693.1 1194.9,693.6" fill="none" stroke="#231f20" stroke-width="2.1" stroke-dasharray="4.2,2.3"/>
<path d="M1222.2,669.4L1325.7,702.3" fill="none" stroke="#231f20" stroke-width="2.1" stroke-dasharray="4.2,2.3"/>
<path d="M1215.3,684.9L1297.8,751.3" fill="none" stroke="#231f20" stroke-width="2.1" stroke-dasharray="4.2,2.3"/>
<path d="M1068.9,633.0L1125.0,632.8" fill="none" stroke="#231f20" stroke-width="2.1" stroke-dasharray="4.2,2.3"/>
<path d="M1068.9,680.5L1119.7,680.0" fill="none" stroke="#231f20" stroke-width="2.1" stroke-dasharray="4.2,2.3"/>
<polygon points="1021,655.6 1027.4,662 1021,668.4 1014.6,662" fill="#fff" stroke="#231f20" stroke-width="1.5"/>
<polygon points="1036.2,667.2 1042.6000000000001,673.6 1036.2,680.0 1029.8,673.6" fill="#fff" stroke="#231f20" stroke-width="1.5"/>
<polygon points="1054.9,667.2 1061.3000000000002,673.6 1054.9,680.0 1048.5,673.6" fill="#fff" stroke="#231f20" stroke-width="1.5"/>
<circle cx="1040.9" cy="620.3" r="5.2" fill="#fff" stroke="#231f20" stroke-width="1.5"/>
<circle cx="1035.7" cy="641.5" r="5.2" fill="#fff" stroke="#231f20" stroke-width="1.5"/>
<circle cx="1043.3" cy="642" r="5.2" fill="#fff" stroke="#231f20" stroke-width="1.5"/>
<circle cx="1060.2" cy="666.5" r="5.2" fill="#fff" stroke="#231f20" stroke-width="1.5"/>
<circle cx="1027.7" cy="641.1" r="6.0" fill="#231f20"/>
<circle cx="1053.1" cy="652.2" r="6.0" fill="#231f20"/>
<circle cx="1043.3" cy="661.1" r="6.0" fill="#231f20"/>
<circle cx="1062" cy="662" r="6.0" fill="#231f20"/>
<polygon points="1030.8,647.6 1038.1,654.9 1030.8,662.1999999999999 1023.5,654.9" fill="#231f20"/>
<polygon points="1041.5,640.5 1048.8,647.8 1041.5,655.0999999999999 1034.2,647.8" fill="#231f20"/>
<polygon points="1060.2,647.6 1067.5,654.9 1060.2,662.1999999999999 1052.9,654.9" fill="#231f20"/>
<circle cx="1087.4" cy="622.8" r="5.2" fill="#fff" stroke="#231f20" stroke-width="1.5"/>
<circle cx="1096.8" cy="642.9" r="5.2" fill="#fff" stroke="#231f20" stroke-width="1.5"/>
<circle cx="1102.1" cy="654.9" r="5.2" fill="#fff" stroke="#231f20" stroke-width="1.5"/>
<circle cx="1114.6" cy="658.5" r="5.2" fill="#fff" stroke="#231f20" stroke-width="1.5"/>
<circle cx="1095.9" cy="670.9" r="5.2" fill="#fff" stroke="#231f20" stroke-width="1.5"/>
<polygon points="1079.8,641.4000000000001 1087.1,648.7 1079.8,656.0 1072.5,648.7" fill="#231f20"/>
<polygon points="1089.6,650.3000000000001 1096.8999999999999,657.6 1089.6,664.9 1082.3,657.6" fill="#231f20"/>
<polygon points="1106.6,648.5 1113.8999999999999,655.8 1106.6,663.0999999999999 1099.3,655.8" fill="#231f20"/>
<circle cx="1092.3" cy="651.3" r="6.0" fill="#231f20"/>
<circle cx="1094" cy="660" r="6.0" fill="#231f20"/>
<polygon points="1078,661.0 1084.4,667.4 1078,673.8 1071.6,667.4" fill="#fff" stroke="#231f20" stroke-width="1.5"/>
<polygon points="1086.1,661.9 1092.5,668.3 1086.1,674.6999999999999 1079.6999999999998,668.3" fill="#fff" stroke="#231f20" stroke-width="1.5"/>
<polygon points="1097.7,658.3000000000001 1104.1000000000001,664.7 1097.7,671.1 1091.3,664.7" fill="#fff" stroke="#231f20" stroke-width="1.5"/>
<polygon points="1112.8,660.1 1119.2,666.5 1112.8,672.9 1106.3999999999999,666.5" fill="#fff" stroke="#231f20" stroke-width="1.5"/>
<rect x="1255" y="609" width="92" height="64" fill="#fff"/>
<path d="M763,0L583,0L583,1147C540,1106 483,1064 413,1023C343,982 280,952 223,933L223,1107C324,1154 412,1212 487,1279C562,1346 615,1412 646,1466L763,1466Z" transform="translate(1267.92,655.30) scale(0.01831,-0.01831)" fill="#231f20"/>
<text x="1288.77" y="655.3" style="font-size:37.5px;" fill="#231f20" xml:space="preserve">.94</text>
<path d="M855.0,1020.0C853.0,1017.0 846.8,1008.1 842.9,1002.0C839.0,995.9 835.2,989.8 831.6,983.1C828.0,976.4 824.8,970.5 821.5,961.6C818.2,952.8 814.4,939.4 812.0,930.0C809.6,920.6 808.2,912.5 807.0,905.2C805.8,897.9 805.2,892.1 804.8,886.2C804.4,880.3 804.4,875.7 804.8,869.8C805.2,863.9 805.9,857.0 807.0,850.9C808.1,844.8 809.2,839.5 811.4,833.2C813.6,826.9 816.6,819.7 820.2,813.0C823.8,806.3 828.7,799.1 832.9,792.8C837.1,786.5 840.9,781.1 845.5,775.1C850.1,769.1 855.4,762.1 860.6,756.5C865.9,750.9 871.1,746.4 877.0,741.4C882.9,736.4 888.6,731.1 896.0,726.2C903.4,721.4 912.8,716.1 921.2,712.3C929.6,708.5 939.2,705.6 946.5,703.5C953.8,701.4 959.9,700.7 965.0,699.7C970.1,698.7 972.1,698.4 977.1,697.7C982.1,697.0 988.1,695.9 995.0,695.5C1001.9,695.1 1011.2,694.7 1018.7,695.6C1026.2,696.5 1033.1,698.4 1040.0,701.0C1046.9,703.6 1055.4,707.8 1060.2,711.2C1065.0,714.6 1067.5,719.9 1068.9,721.6L1068.9,721.6C1070.2,720.0 1071.4,716.1 1077.0,712.0C1082.6,707.9 1090.5,700.7 1102.6,697.0C1114.7,693.3 1136.6,690.5 1149.5,689.6C1162.4,688.7 1170.8,690.5 1180.0,691.8C1189.2,693.1 1196.5,694.8 1204.8,697.4C1213.1,700.0 1221.3,703.4 1229.6,707.3C1237.9,711.2 1247.2,716.6 1254.4,720.9C1261.6,725.2 1266.2,727.7 1273.0,733.3C1279.8,738.9 1289.1,747.8 1295.3,754.4C1301.5,761.0 1305.7,766.8 1310.2,773.0C1314.8,779.2 1319.1,785.4 1322.6,791.6C1326.1,797.8 1328.9,804.2 1331.3,810.2C1333.7,816.2 1335.7,819.2 1336.8,827.5C1337.9,835.8 1338.7,848.8 1338.0,860.0C1337.3,871.2 1334.3,885.6 1332.5,894.5C1330.7,903.4 1329.6,905.2 1326.9,913.1C1324.2,921.0 1320.2,932.3 1316.4,941.6C1312.6,950.9 1307.3,961.7 1304.0,968.9C1300.7,976.1 1299.7,979.5 1296.5,985.0C1293.3,990.5 1286.9,999.2 1285.0,1002.0Z" fill="#fff" stroke="none"/>
<path d="M1068.9,721.6C1067.5,719.9 1065.0,714.6 1060.2,711.2C1055.4,707.8 1046.9,703.6 1040.0,701.0C1033.1,698.4 1026.2,696.5 1018.7,695.6C1011.2,694.7 1001.9,695.1 995.0,695.5C988.1,695.9 982.1,697.0 977.1,697.7C972.1,698.4 970.1,698.7 965.0,699.7C959.9,700.7 953.8,701.4 946.5,703.5C939.2,705.6 929.6,708.5 921.2,712.3C912.8,716.1 903.4,721.4 896.0,726.2C888.6,731.1 882.9,736.4 877.0,741.4C871.1,746.4 865.9,750.9 860.6,756.5C855.4,762.1 850.1,769.1 845.5,775.1C840.9,781.1 837.1,786.5 832.9,792.8C828.7,799.1 823.8,806.3 820.2,813.0C816.6,819.7 813.6,826.9 811.4,833.2C809.2,839.5 808.1,844.8 807.0,850.9C805.9,857.0 805.2,863.9 804.8,869.8C804.4,875.7 804.4,880.3 804.8,886.2C805.2,892.1 805.8,897.9 807.0,905.2C808.2,912.5 809.6,920.6 812.0,930.0C814.4,939.4 818.2,952.8 821.5,961.6C824.8,970.5 828.0,976.4 831.6,983.1C835.2,989.8 839.0,995.9 842.9,1002.0C846.8,1008.1 853.0,1017.0 855.0,1020.0" fill="none" stroke="#231f20" stroke-width="2.5"/>
<path d="M1068.9,721.6C1070.2,720.0 1071.4,716.1 1077.0,712.0C1082.6,707.9 1090.5,700.7 1102.6,697.0C1114.7,693.3 1136.6,690.5 1149.5,689.6C1162.4,688.7 1170.8,690.5 1180.0,691.8C1189.2,693.1 1196.5,694.8 1204.8,697.4C1213.1,700.0 1221.3,703.4 1229.6,707.3C1237.9,711.2 1247.2,716.6 1254.4,720.9C1261.6,725.2 1266.2,727.7 1273.0,733.3C1279.8,738.9 1289.1,747.8 1295.3,754.4C1301.5,761.0 1305.7,766.8 1310.2,773.0C1314.8,779.2 1319.1,785.4 1322.6,791.6C1326.1,797.8 1328.9,804.2 1331.3,810.2C1333.7,816.2 1335.7,819.2 1336.8,827.5C1337.9,835.8 1338.7,848.8 1338.0,860.0C1337.3,871.2 1334.3,885.6 1332.5,894.5C1330.7,903.4 1329.6,905.2 1326.9,913.1C1324.2,921.0 1320.2,932.3 1316.4,941.6C1312.6,950.9 1307.3,961.7 1304.0,968.9C1300.7,976.1 1299.7,979.5 1296.5,985.0C1293.3,990.5 1286.9,999.2 1285.0,1002.0" fill="none" stroke="#231f20" stroke-width="2.5"/>
<line x1="1068.9" y1="721.6" x2="1068.9" y2="990" stroke="#231f20" stroke-width="1.9"/>
<path d="M980.0,925.0C980.2,923.2 981.5,917.0 981.5,914.1C981.5,911.2 981.3,910.1 980.0,907.9C978.7,905.6 976.1,902.7 973.7,900.6C971.3,898.5 968.5,896.7 965.4,895.4C962.3,894.1 958.1,893.3 955.0,892.8C951.9,892.3 950.6,893.4 946.5,892.5C942.4,891.6 933.4,888.9 930.1,887.5C926.8,886.1 927.3,885.7 926.9,884.4C926.5,883.1 926.5,883.0 927.5,879.9C928.5,876.8 930.7,871.2 932.6,866.0C934.5,860.8 936.6,853.9 938.9,848.4C941.2,842.9 943.8,837.8 946.5,833.2C949.2,828.6 952.1,824.4 955.3,820.6C958.4,816.8 962.0,813.2 965.4,810.2C968.8,807.2 972.3,804.6 975.8,802.9C979.3,801.2 982.7,800.4 986.2,799.8C989.7,799.2 993.5,799.0 996.6,799.2C999.7,799.4 1002.3,799.7 1004.9,800.8C1007.5,801.9 1010.1,803.6 1012.2,806.0C1014.3,808.4 1016.3,811.9 1017.4,815.4C1018.5,818.9 1018.6,822.3 1019.0,826.8C1019.4,831.3 1019.1,837.2 1019.5,842.4C1019.9,847.6 1020.7,852.8 1021.5,858.0C1022.3,863.2 1023.7,868.4 1024.1,873.6C1024.4,878.8 1023.9,884.4 1023.6,889.2C1023.3,894.1 1022.5,896.7 1022.1,902.7C1021.7,908.7 1021.2,921.3 1021.0,925.0" fill="none" stroke="#231f20" stroke-width="2.4" stroke-linejoin="round"/>
<path d="M1116.5,925.0C1116.4,923.7 1116.6,921.2 1116.1,917.0C1115.6,912.8 1114.3,905.9 1113.6,899.9C1112.9,893.9 1111.8,888.4 1111.7,881.0C1111.6,873.6 1112.4,863.5 1113.0,855.7C1113.6,847.9 1114.2,840.8 1115.5,834.3C1116.8,827.8 1118.4,821.5 1120.5,816.6C1122.6,811.8 1125.1,808.0 1128.1,805.2C1131.0,802.4 1135.0,800.6 1138.2,799.6C1141.4,798.6 1144.0,798.8 1147.0,799.0C1150.0,799.2 1151.7,799.1 1155.9,800.8C1160.1,802.5 1166.8,805.5 1172.3,809.0C1177.8,812.5 1183.9,817.2 1188.7,821.6C1193.5,826.0 1197.7,830.6 1201.3,835.5C1204.9,840.4 1207.9,846.1 1210.1,850.7C1212.3,855.3 1213.9,859.9 1214.6,863.3C1215.2,866.7 1215.0,868.8 1214.0,870.9C1213.0,873.0 1211.7,874.5 1208.9,875.9C1206.2,877.3 1201.9,878.0 1197.5,879.1C1193.1,880.2 1186.8,880.7 1182.4,882.2C1178.0,883.7 1174.2,885.6 1171.0,887.9C1167.8,890.2 1165.1,893.5 1163.4,896.1C1161.7,898.7 1161.1,901.0 1160.9,903.7C1160.7,906.4 1161.8,909.0 1162.2,912.5C1162.6,916.0 1163.2,922.9 1163.4,925.0" fill="none" stroke="#231f20" stroke-width="2.4" stroke-linejoin="round"/>
<path d="M984.4,697.7C985.4,711.6 989.0,764.1 990.4,781.0C991.8,797.9 992.6,796.2 993.0,799.2" fill="none" stroke="#231f20" stroke-width="2.1" stroke-dasharray="4.2,2.3"/>
<path d="M1062.3,716.4L1008.0,801.3" fill="none" stroke="#231f20" stroke-width="2.1" stroke-dasharray="4.2,2.3"/>
<path d="M1068.9,763.2L1014.3,806.0" fill="none" stroke="#231f20" stroke-width="2.1" stroke-dasharray="4.2,2.3"/>
<path d="M852.4,768.8L940.1,845.8" fill="none" stroke="#231f20" stroke-width="2.1" stroke-dasharray="4.2,2.3"/>
<path d="M872.1,748.6L945.8,833.2" fill="none" stroke="#231f20" stroke-width="2.1" stroke-dasharray="4.2,2.3"/>
<path d="M807.0,853.4L927.5,877.4" fill="none" stroke="#231f20" stroke-width="2.1" stroke-dasharray="4.2,2.3"/>
<path d="M806.4,882.4L925.0,883.0" fill="none" stroke="#231f20" stroke-width="2.1" stroke-dasharray="4.2,2.3"/>
<path d="M813.0,939.3L918.1,900.1" fill="none" stroke="#231f20" stroke-width="2.1" stroke-dasharray="4.2,2.3"/>
<path d="M926.3,881.2C925.4,882.5 922.6,885.6 921.2,888.8C919.8,891.9 918.3,896.8 918.1,900.1C917.9,903.5 918.2,906.0 920.0,908.9C921.8,911.8 925.4,915.6 928.8,917.8C932.1,920.0 936.1,921.2 940.1,922.2C944.1,923.2 950.7,923.8 952.8,924.1" fill="none" stroke="#231f20" stroke-width="2.1" stroke-dasharray="4.2,2.3"/>
<path d="M940.1,922.2L913.6,940.2" fill="none" stroke="#231f20" stroke-width="2.1" stroke-dasharray="4.2,2.3"/>
<path d="M1022.6,862.1C1029.5,862.1 1056.5,862.2 1064.2,862.1C1071.9,862.0 1068.1,861.6 1068.9,861.5" fill="none" stroke="#231f20" stroke-width="2.1" stroke-dasharray="4.2,2.3"/>
<path d="M1023.6,899.6C1026.0,900.3 1030.7,903.0 1038.2,903.7C1045.8,904.4 1063.8,903.7 1068.9,903.7" fill="none" stroke="#231f20" stroke-width="2.1" stroke-dasharray="4.2,2.3"/>
<path d="M1068.9,763.1L1121.8,815.4" fill="none" stroke="#231f20" stroke-width="2.1" stroke-dasharray="4.2,2.3"/>
<path d="M1077.0,715.2L1128.2,803.6" fill="none" stroke="#231f20" stroke-width="2.1" stroke-dasharray="4.2,2.3"/>
<path d="M1155.9,690.7C1155.3,705.6 1152.9,762.0 1152.1,780.0C1151.2,798.0 1151.0,795.8 1150.8,799.0" fill="none" stroke="#231f20" stroke-width="2.1" stroke-dasharray="4.2,2.3"/>
<path d="M1272.4,734.5L1198.2,830.5" fill="none" stroke="#231f20" stroke-width="2.1" stroke-dasharray="4.2,2.3"/>
<path d="M1293.4,755.0L1206.4,841.9" fill="none" stroke="#231f20" stroke-width="2.1" stroke-dasharray="4.2,2.3"/>
<path d="M1215.2,867.1L1253.8,859.8" fill="none" stroke="#231f20" stroke-width="2.1" stroke-dasharray="4.2,2.3"/>
<path d="M1219.0,875.9L1254.4,872.8" fill="none" stroke="#231f20" stroke-width="2.1" stroke-dasharray="4.2,2.3"/>
<path d="M1222.8,883.5L1326.9,912.4" fill="none" stroke="#231f20" stroke-width="2.1" stroke-dasharray="4.2,2.3"/>
<path d="M1216.5,867.1C1217.5,869.4 1221.2,878.1 1222.2,881.0C1223.2,883.9 1223.0,882.0 1222.8,884.5C1222.6,887.0 1222.2,892.4 1220.9,895.7C1219.6,899.0 1217.4,902.0 1214.7,904.4C1212.0,906.8 1208.7,908.1 1204.8,910.0C1200.9,911.9 1195.6,914.0 1191.2,915.7C1186.8,917.4 1180.7,919.4 1178.6,920.1" fill="none" stroke="#231f20" stroke-width="2.1" stroke-dasharray="4.2,2.3"/>
<path d="M1204.8,910.0L1304.0,968.9" fill="none" stroke="#231f20" stroke-width="2.1" stroke-dasharray="4.2,2.3"/>
<path d="M1285.4,971.3L1304.0,970.7" fill="none" stroke="#231f20" stroke-width="2.1" stroke-dasharray="4.2,2.3"/>
<path d="M1068.9,861.4L1113.0,860.8" fill="none" stroke="#231f20" stroke-width="2.1" stroke-dasharray="4.2,2.3"/>
<path d="M1068.9,903.1C1073.5,903.3 1089.2,904.5 1096.6,904.3C1103.9,904.1 1110.3,902.2 1113.0,901.8" fill="none" stroke="#231f20" stroke-width="2.1" stroke-dasharray="4.2,2.3"/>
<polygon points="1032.5,858.9 1038.9,865.3 1032.5,871.6999999999999 1026.1,865.3" fill="#fff" stroke="#231f20" stroke-width="1.5"/>
<polygon points="1038.2,858.3000000000001 1044.6000000000001,864.7 1038.2,871.1 1031.8,864.7" fill="#fff" stroke="#231f20" stroke-width="1.5"/>
<polygon points="1032,871.9 1038.4,878.3 1032,884.6999999999999 1025.6,878.3" fill="#fff" stroke="#231f20" stroke-width="1.5"/>
<circle cx="1039.2" cy="851.2" r="6.0" fill="#231f20"/>
<circle cx="1043.4" cy="873.6" r="6.0" fill="#231f20"/>
<circle cx="1044.4" cy="884" r="6.0" fill="#231f20"/>
<circle cx="1058" cy="878.8" r="6.0" fill="#231f20"/>
<polygon points="1053.8,882.9000000000001 1061.1,890.2 1053.8,897.5 1046.5,890.2" fill="#231f20"/>
<circle cx="1077" cy="836.2" r="6.0" fill="#231f20"/>
<circle cx="1082" cy="851.3" r="6.0" fill="#231f20"/>
<circle cx="1093.4" cy="865.8" r="6.0" fill="#231f20"/>
<polygon points="1081.4,853.7 1087.8000000000002,860.1 1081.4,866.5 1075.0,860.1" fill="#fff" stroke="#231f20" stroke-width="1.5"/>
<polygon points="1079.5,866.7 1086.8,874 1079.5,881.3 1072.2,874" fill="#231f20"/>
<polygon points="1098.4,869.2 1105.7,876.5 1098.4,883.8 1091.1000000000001,876.5" fill="#231f20"/>
<circle cx="1092.1" cy="883.5" r="5.2" fill="#fff" stroke="#231f20" stroke-width="1.5"/>
<circle cx="1087.1" cy="884.1" r="6.0" fill="#231f20"/>
<polygon points="1075.7,882.8000000000001 1082.1000000000001,889.2 1075.7,895.6 1069.3,889.2" fill="#fff" stroke="#231f20" stroke-width="1.5"/>
<polygon points="1085.2,885.3000000000001 1091.6000000000001,891.7 1085.2,898.1 1078.8,891.7" fill="#fff" stroke="#231f20" stroke-width="1.5"/>
<polygon points="1099.7,884.4000000000001 1107.0,891.7 1099.7,899.0 1092.4,891.7" fill="#231f20"/>
<rect x="1255" y="829" width="92" height="64" fill="#fff"/>
<path d="M763,0L583,0L583,1147C540,1106 483,1064 413,1023C343,982 280,952 223,933L223,1107C324,1154 412,1212 487,1279C562,1346 615,1412 646,1466L763,1466Z" transform="translate(1267.92,874.70) scale(0.01831,-0.01831)" fill="#231f20"/>
<text x="1288.77" y="874.7" style="font-size:37.5px;" fill="#231f20" xml:space="preserve">.78</text>
<path d="M845.0,1215.0C843.2,1211.9 837.6,1203.2 834.1,1196.6C830.6,1189.9 827.0,1182.5 824.0,1175.1C821.0,1167.7 818.6,1160.2 816.4,1152.4C814.2,1144.6 812.0,1136.2 810.7,1128.4C809.4,1120.6 809.0,1111.3 808.8,1105.7C808.5,1100.1 808.7,1099.7 809.2,1095.0C809.7,1090.3 810.8,1083.8 812.0,1077.8C813.2,1071.8 814.6,1065.1 816.4,1058.8C818.2,1052.5 820.2,1046.2 822.7,1039.9C825.2,1033.6 828.4,1026.7 831.6,1021.0C834.8,1015.3 838.6,1010.2 841.7,1005.8C844.9,1001.4 846.9,998.5 850.5,994.5C854.1,990.5 858.9,986.0 863.1,981.8C867.3,977.6 871.5,973.2 875.7,969.2C879.9,965.2 883.0,961.9 888.3,957.9C893.6,953.9 901.0,948.8 907.3,945.2C913.6,941.6 918.8,939.5 926.2,936.4C933.6,933.2 943.2,929.0 951.5,926.3C959.8,923.6 968.3,922.0 975.8,920.4C983.3,918.8 989.7,917.3 996.6,916.7C1003.5,916.1 1010.5,916.1 1017.4,916.7C1024.3,917.3 1032.1,918.8 1038.2,920.4C1044.3,922.0 1049.5,924.5 1053.8,926.6C1058.1,928.7 1061.7,931.3 1064.2,932.9C1066.7,934.5 1068.1,935.5 1068.9,936.0L1068.9,936.0C1070.4,935.0 1073.0,932.4 1077.6,930.2C1082.2,928.0 1090.3,924.7 1096.6,922.7C1102.9,920.7 1107.1,919.4 1115.5,918.2C1123.9,917.0 1138.6,915.9 1147.0,915.7C1155.4,915.5 1160.5,916.2 1166.0,917.0C1171.5,917.8 1173.5,918.7 1180.0,920.5C1186.5,922.3 1196.5,924.7 1204.8,927.9C1213.1,931.1 1220.5,935.2 1229.6,939.7C1238.7,944.2 1250.2,949.6 1259.3,955.2C1268.4,960.8 1277.9,968.1 1284.1,973.1C1290.3,978.1 1292.6,980.7 1296.5,985.5C1300.4,990.3 1304.4,996.3 1307.7,1001.7C1311.0,1007.1 1314.2,1013.9 1316.4,1017.8C1318.6,1021.7 1318.8,1018.2 1320.7,1025.2C1322.6,1032.2 1326.3,1049.0 1328.0,1060.0C1329.7,1071.0 1330.4,1082.7 1330.6,1091.0C1330.8,1099.3 1330.3,1103.4 1329.4,1109.6C1328.5,1115.8 1327.2,1121.0 1325.0,1128.2C1322.8,1135.4 1319.9,1144.7 1316.4,1153.0C1312.9,1161.3 1306.9,1172.2 1304.0,1177.8C1301.1,1183.4 1301.3,1182.8 1299.0,1186.5C1296.7,1190.2 1291.5,1197.8 1290.0,1200.0Z" fill="#fff" stroke="none"/>
<path d="M1068.9,936.0C1068.1,935.5 1066.7,934.5 1064.2,932.9C1061.7,931.3 1058.1,928.7 1053.8,926.6C1049.5,924.5 1044.3,922.0 1038.2,920.4C1032.1,918.8 1024.3,917.3 1017.4,916.7C1010.5,916.1 1003.5,916.1 996.6,916.7C989.7,917.3 983.3,918.8 975.8,920.4C968.3,922.0 959.8,923.6 951.5,926.3C943.2,929.0 933.6,933.2 926.2,936.4C918.8,939.5 913.6,941.6 907.3,945.2C901.0,948.8 893.6,953.9 888.3,957.9C883.0,961.9 879.9,965.2 875.7,969.2C871.5,973.2 867.3,977.6 863.1,981.8C858.9,986.0 854.1,990.5 850.5,994.5C846.9,998.5 844.9,1001.4 841.7,1005.8C838.6,1010.2 834.8,1015.3 831.6,1021.0C828.4,1026.7 825.2,1033.6 822.7,1039.9C820.2,1046.2 818.2,1052.5 816.4,1058.8C814.6,1065.1 813.2,1071.8 812.0,1077.8C810.8,1083.8 809.7,1090.3 809.2,1095.0C808.7,1099.7 808.5,1100.1 808.8,1105.7C809.0,1111.3 809.4,1120.6 810.7,1128.4C812.0,1136.2 814.2,1144.6 816.4,1152.4C818.6,1160.2 821.0,1167.7 824.0,1175.1C827.0,1182.5 830.6,1189.9 834.1,1196.6C837.6,1203.2 843.2,1211.9 845.0,1215.0" fill="none" stroke="#231f20" stroke-width="2.5"/>
<path d="M1068.9,936.0C1070.4,935.0 1073.0,932.4 1077.6,930.2C1082.2,928.0 1090.3,924.7 1096.6,922.7C1102.9,920.7 1107.1,919.4 1115.5,918.2C1123.9,917.0 1138.6,915.9 1147.0,915.7C1155.4,915.5 1160.5,916.2 1166.0,917.0C1171.5,917.8 1173.5,918.7 1180.0,920.5C1186.5,922.3 1196.5,924.7 1204.8,927.9C1213.1,931.1 1220.5,935.2 1229.6,939.7C1238.7,944.2 1250.2,949.6 1259.3,955.2C1268.4,960.8 1277.9,968.1 1284.1,973.1C1290.3,978.1 1292.6,980.7 1296.5,985.5C1300.4,990.3 1304.4,996.3 1307.7,1001.7C1311.0,1007.1 1314.2,1013.9 1316.4,1017.8C1318.6,1021.7 1318.8,1018.2 1320.7,1025.2C1322.6,1032.2 1326.3,1049.0 1328.0,1060.0C1329.7,1071.0 1330.4,1082.7 1330.6,1091.0C1330.8,1099.3 1330.3,1103.4 1329.4,1109.6C1328.5,1115.8 1327.2,1121.0 1325.0,1128.2C1322.8,1135.4 1319.9,1144.7 1316.4,1153.0C1312.9,1161.3 1306.9,1172.2 1304.0,1177.8C1301.1,1183.4 1301.3,1182.8 1299.0,1186.5C1296.7,1190.2 1291.5,1197.8 1290.0,1200.0" fill="none" stroke="#231f20" stroke-width="2.5"/>
<line x1="1068.9" y1="936" x2="1068.9" y2="1200" stroke="#231f20" stroke-width="1.9"/>
<path d="M944.0,1140.0C944.0,1139.1 945.6,1137.3 943.9,1134.8C942.2,1132.2 936.5,1128.3 933.8,1124.7C931.1,1121.1 929.1,1117.3 927.5,1113.3C925.9,1109.3 924.7,1105.1 924.3,1100.7C923.9,1096.3 923.9,1091.4 924.9,1086.8C925.9,1082.2 927.7,1077.1 930.0,1072.9C932.3,1068.7 935.9,1065.0 938.9,1061.6C941.9,1058.2 944.6,1055.7 947.7,1052.7C950.9,1049.8 954.1,1046.5 957.8,1043.9C961.5,1041.4 964.7,1039.2 970.0,1037.4C975.3,1035.6 985.6,1033.5 989.6,1033.0C993.6,1032.5 991.3,1030.6 993.7,1034.1C996.1,1037.6 1001.0,1046.0 1004.1,1053.8C1007.2,1061.6 1010.0,1071.8 1012.4,1080.8C1014.8,1089.8 1017.5,1099.4 1018.7,1107.9C1019.9,1116.4 1019.5,1128.0 1019.7,1132.0" fill="none" stroke="#231f20" stroke-width="2.4" stroke-linejoin="round"/>
<path d="M955.3,1135.0C955.3,1131.2 954.7,1118.1 955.3,1112.0C955.9,1105.9 957.5,1101.8 959.0,1098.2C960.5,1094.6 962.3,1092.5 964.1,1090.6C965.9,1088.7 967.8,1087.7 970.0,1086.8C972.2,1085.9 973.5,1084.6 977.1,1085.0C980.7,1085.4 987.1,1086.4 991.6,1089.2C996.1,1092.0 1000.6,1096.4 1004.1,1101.6C1007.6,1106.8 1010.7,1115.6 1012.4,1120.3C1014.1,1125.0 1014.1,1128.4 1014.5,1130.0" fill="none" stroke="#231f20" stroke-width="2.4" stroke-linejoin="round"/>
<path d="M1113.6,1128.0C1113.6,1123.5 1113.1,1108.7 1113.6,1101.0C1114.1,1093.3 1115.1,1088.3 1116.7,1082.0C1118.3,1075.7 1120.6,1068.8 1123.1,1063.1C1125.6,1057.4 1128.1,1053.2 1131.9,1048.0C1135.7,1042.8 1141.2,1034.6 1145.8,1032.2C1150.4,1029.8 1154.2,1032.5 1159.7,1033.4C1165.2,1034.4 1172.3,1035.7 1178.6,1037.9C1184.9,1040.1 1192.2,1043.6 1197.5,1046.7C1202.8,1049.8 1206.7,1053.0 1210.1,1056.8C1213.5,1060.6 1216.0,1064.2 1217.7,1069.4C1219.4,1074.6 1220.2,1082.4 1220.3,1088.0C1220.4,1093.6 1219.5,1098.3 1218.5,1103.0C1217.5,1107.7 1215.8,1112.6 1214.0,1116.0C1212.2,1119.4 1209.8,1122.0 1208.0,1123.5C1206.2,1125.0 1204.5,1125.4 1203.0,1125.0C1201.5,1124.6 1200.2,1123.0 1199.0,1121.0C1197.8,1119.0 1197.8,1115.6 1196.1,1113.3C1194.4,1111.0 1191.6,1110.2 1188.7,1107.3C1185.8,1104.4 1181.8,1099.7 1178.6,1095.9C1175.4,1092.1 1172.7,1087.1 1169.8,1084.6C1166.9,1082.1 1165.0,1080.8 1161.0,1080.8C1157.0,1080.8 1150.4,1082.5 1145.8,1084.6C1141.2,1086.7 1136.6,1090.2 1133.2,1093.4C1129.8,1096.6 1127.3,1099.3 1125.6,1103.5C1123.9,1107.7 1123.5,1114.6 1123.1,1118.7C1122.7,1122.8 1123.0,1126.5 1123.0,1128.0" fill="none" stroke="#231f20" stroke-width="2.4" stroke-linejoin="round"/>
<path d="M972.9,921.8L980.2,1034.1" fill="none" stroke="#231f20" stroke-width="2.1" stroke-dasharray="4.2,2.3"/>
<path d="M1058.2,931.2L989.6,1032.0" fill="none" stroke="#231f20" stroke-width="2.1" stroke-dasharray="4.2,2.3"/>
<path d="M1068.9,971.7L994.8,1032.0" fill="none" stroke="#231f20" stroke-width="2.1" stroke-dasharray="4.2,2.3"/>
<path d="M878.3,969.9L947.1,1052.6" fill="none" stroke="#231f20" stroke-width="2.1" stroke-dasharray="4.2,2.3"/>
<path d="M858.7,986.9L938.9,1061.4" fill="none" stroke="#231f20" stroke-width="2.1" stroke-dasharray="4.2,2.3"/>
<path d="M810.1,1083.0L924.3,1095.0" fill="none" stroke="#231f20" stroke-width="2.1" stroke-dasharray="4.2,2.3"/>
<path d="M809.5,1108.3L925.0,1104.5" fill="none" stroke="#231f20" stroke-width="2.1" stroke-dasharray="4.2,2.3"/>
<path d="M817.7,1152.4L917.4,1131.0" fill="none" stroke="#231f20" stroke-width="2.1" stroke-dasharray="4.2,2.3"/>
<path d="M925.0,1104.5C924.1,1106.4 920.9,1111.4 919.9,1115.8C918.9,1120.2 919.1,1126.2 919.3,1131.0C919.5,1135.8 920.9,1142.6 921.2,1144.9" fill="none" stroke="#231f20" stroke-width="2.1" stroke-dasharray="4.2,2.3"/>
<path d="M1010.4,1061.1L1068.9,1059.0" fill="none" stroke="#231f20" stroke-width="2.1" stroke-dasharray="4.2,2.3"/>
<path d="M1021.8,1105.8L1068.9,1110.0" fill="none" stroke="#231f20" stroke-width="2.1" stroke-dasharray="4.2,2.3"/>
<path d="M1068.9,973.5L1143.3,1031.0" fill="none" stroke="#231f20" stroke-width="2.1" stroke-dasharray="4.2,2.3"/>
<path d="M1077.0,932.0L1145.8,1031.0" fill="none" stroke="#231f20" stroke-width="2.1" stroke-dasharray="4.2,2.3"/>
<path d="M1164.4,918.1C1163.8,931.8 1161.8,980.9 1160.9,1000.0C1160.0,1019.1 1159.3,1027.3 1159.0,1032.8" fill="none" stroke="#231f20" stroke-width="2.1" stroke-dasharray="4.2,2.3"/>
<path d="M1259.3,955.8L1200.0,1047.3" fill="none" stroke="#231f20" stroke-width="2.1" stroke-dasharray="4.2,2.3"/>
<path d="M1284.1,974.4L1211.4,1056.8" fill="none" stroke="#231f20" stroke-width="2.1" stroke-dasharray="4.2,2.3"/>
<path d="M1220.9,1088.3L1253.8,1084.2" fill="none" stroke="#231f20" stroke-width="2.1" stroke-dasharray="4.2,2.3"/>
<path d="M1222.2,1096.6L1330.0,1100.3" fill="none" stroke="#231f20" stroke-width="2.1" stroke-dasharray="4.2,2.3"/>
<path d="M1229.6,1122.0L1322.6,1137.5" fill="none" stroke="#231f20" stroke-width="2.1" stroke-dasharray="4.2,2.3"/>
<path d="M1222.2,1096.6C1223.3,1098.8 1228.0,1105.4 1229.0,1109.6C1230.0,1113.8 1229.1,1117.2 1228.4,1122.0C1227.7,1126.8 1225.2,1135.4 1224.6,1138.1" fill="none" stroke="#231f20" stroke-width="2.1" stroke-dasharray="4.2,2.3"/>
<path d="M1284.1,1170.3L1302.7,1176.5" fill="none" stroke="#231f20" stroke-width="2.1" stroke-dasharray="4.2,2.3"/>
<path d="M1068.9,1058.7C1073.5,1059.0 1086.9,1060.6 1096.6,1060.6C1106.2,1060.6 1121.8,1059.0 1126.8,1058.7" fill="none" stroke="#231f20" stroke-width="2.1" stroke-dasharray="4.2,2.3"/>
<path d="M1068.9,1108.5C1072.5,1108.5 1082.9,1109.0 1090.2,1108.5C1097.5,1108.0 1109.2,1105.9 1113.0,1105.4" fill="none" stroke="#231f20" stroke-width="2.1" stroke-dasharray="4.2,2.3"/>
<circle cx="1029.8" cy="1069.3" r="5.2" fill="#fff" stroke="#231f20" stroke-width="1.5"/>
<circle cx="1046.6" cy="1069.3" r="5.2" fill="#fff" stroke="#231f20" stroke-width="1.5"/>
<polygon points="1034.7,1060.3 1041.1000000000001,1066.7 1034.7,1073.1000000000001 1028.3,1066.7" fill="#fff" stroke="#231f20" stroke-width="1.5"/>
<circle cx="1025.4" cy="1079.3" r="6.0" fill="#231f20"/>
<circle cx="1042.5" cy="1079.3" r="6.0" fill="#231f20"/>
<circle cx="1047.7" cy="1088.6" r="5.2" fill="#fff" stroke="#231f20" stroke-width="1.5"/>
<circle cx="1042.5" cy="1087.5" r="6.0" fill="#231f20"/>
<polygon points="1033.6,1081.8999999999999 1040.0,1088.3 1033.6,1094.7 1027.1999999999998,1088.3" fill="#fff" stroke="#231f20" stroke-width="1.5"/>
<circle cx="1032.8" cy="1098.6" r="6.0" fill="#231f20"/>
<polygon points="1044.7,1095.8 1052.0,1103.1 1044.7,1110.3999999999999 1037.4,1103.1" fill="#231f20"/>
<circle cx="1078.9" cy="1049.2" r="6.0" fill="#231f20"/>
<polygon points="1080.1,1055.5 1086.5,1061.9 1080.1,1068.3000000000002 1073.6999999999998,1061.9" fill="#fff" stroke="#231f20" stroke-width="1.5"/>
<circle cx="1091.5" cy="1068.8" r="5.2" fill="#fff" stroke="#231f20" stroke-width="1.5"/>
<circle cx="1077" cy="1075.8" r="6.0" fill="#231f20"/>
<polygon points="1083.3,1065.5 1089.7,1071.9 1083.3,1078.3000000000002 1076.8999999999999,1071.9" fill="#fff" stroke="#231f20" stroke-width="1.5"/>
<polygon points="1103.5,1067.2 1110.8,1074.5 1103.5,1081.8 1096.2,1074.5" fill="#231f20"/>
<circle cx="1077" cy="1093.4" r="6.0" fill="#231f20"/>
<polygon points="1084.6,1079.3999999999999 1091.0,1085.8 1084.6,1092.2 1078.1999999999998,1085.8" fill="#fff" stroke="#231f20" stroke-width="1.5"/>
<circle cx="1093.4" cy="1085.8" r="5.2" fill="#fff" stroke="#231f20" stroke-width="1.5"/>
<circle cx="1107.3" cy="1085.8" r="5.2" fill="#fff" stroke="#231f20" stroke-width="1.5"/>
<rect x="1255" y="1027" width="92" height="63" fill="#fff"/>
<path d="M763,0L583,0L583,1147C540,1106 483,1064 413,1023C343,982 280,952 223,933L223,1107C324,1154 412,1212 487,1279C562,1346 615,1412 646,1466L763,1466Z" transform="translate(1267.92,1071.20) scale(0.01831,-0.01831)" fill="#231f20"/>
<text x="1288.77" y="1071.2" style="font-size:37.5px;" fill="#231f20" xml:space="preserve">.70</text>
<path d="M1069.4,1450.1C1069.0,1453.5 1068.5,1463.7 1066.8,1470.5C1065.1,1477.3 1063.4,1484.7 1059.4,1490.9C1055.4,1497.1 1050.1,1502.6 1042.7,1507.6C1035.3,1512.5 1024.2,1517.8 1014.9,1520.6C1005.6,1523.4 996.3,1523.9 987.0,1524.4C977.7,1524.9 968.5,1525.0 959.2,1523.4C949.9,1521.9 939.8,1518.3 931.4,1515.1C923.0,1511.8 915.9,1508.6 909.1,1503.9C902.3,1499.2 896.1,1492.2 890.5,1487.2C884.9,1482.2 880.7,1478.8 875.7,1474.2C870.8,1469.6 866.1,1465.0 860.8,1459.4C855.5,1453.8 849.0,1447.6 844.1,1440.8C839.2,1434.0 835.7,1426.9 831.1,1418.6C826.5,1410.3 820.4,1399.6 816.5,1391.2C812.6,1382.8 810.0,1376.0 807.6,1368.4C805.2,1360.8 803.5,1353.7 802.0,1345.7C800.5,1337.7 799.2,1328.9 798.8,1320.5C798.4,1312.1 798.7,1303.6 799.4,1295.2C800.1,1286.8 801.6,1277.1 803.2,1270.2C804.8,1263.3 806.7,1259.6 808.9,1253.9C811.1,1248.2 813.5,1241.9 816.5,1236.2C819.5,1230.5 823.0,1224.8 826.6,1219.8C830.2,1214.8 833.7,1210.5 837.9,1205.9C842.1,1201.3 846.3,1196.8 851.8,1192.0C857.3,1187.2 863.3,1182.3 870.7,1176.8C878.1,1171.3 887.6,1164.5 896.0,1159.2C904.4,1154.0 912.8,1149.3 921.2,1145.3C929.6,1141.3 939.2,1137.9 946.5,1135.2C953.8,1132.5 959.2,1130.4 965.0,1128.9C970.8,1127.4 972.2,1127.0 981.2,1126.2C990.2,1125.4 1008.9,1124.1 1018.7,1124.2C1028.5,1124.3 1032.7,1125.3 1040.0,1127.0C1047.3,1128.7 1057.5,1132.2 1062.3,1134.6C1067.1,1137.0 1067.8,1140.3 1068.9,1141.4L1068.9,1141.4C1070.4,1140.3 1073.0,1137.7 1077.6,1135.0C1082.2,1132.3 1090.3,1127.3 1096.6,1125.0C1102.9,1122.7 1108.2,1122.0 1115.5,1121.2C1122.8,1120.4 1132.3,1119.5 1140.7,1119.9C1149.1,1120.3 1157.6,1122.0 1166.0,1123.7C1174.4,1125.4 1182.8,1127.7 1191.2,1130.0C1199.6,1132.3 1210.1,1135.8 1216.5,1137.6C1222.9,1139.4 1223.3,1138.0 1229.6,1140.6C1235.9,1143.2 1246.1,1148.2 1254.4,1153.0C1262.7,1157.8 1271.8,1163.7 1279.2,1169.1C1286.6,1174.5 1293.2,1179.6 1299.0,1185.2C1304.8,1190.8 1308.9,1195.8 1313.9,1202.6C1318.9,1209.4 1324.2,1216.4 1328.8,1226.1C1333.4,1235.8 1338.8,1249.1 1341.3,1260.6C1343.8,1272.1 1344.4,1283.8 1344.0,1295.0C1343.6,1306.2 1341.3,1316.1 1339.1,1327.8C1336.9,1339.5 1334.6,1354.6 1330.6,1365.0C1326.6,1375.4 1319.7,1381.3 1315.0,1390.1C1310.3,1398.9 1307.1,1409.7 1302.6,1418.0C1298.0,1426.3 1293.3,1432.8 1287.7,1440.2C1282.1,1447.6 1276.0,1455.4 1269.2,1462.5C1262.4,1469.6 1256.2,1476.1 1246.9,1482.9C1237.6,1489.7 1225.2,1498.2 1213.5,1503.3C1201.8,1508.4 1188.8,1511.5 1176.4,1513.5C1164.0,1515.5 1151.6,1517.1 1139.2,1515.4C1126.8,1513.7 1111.4,1507.8 1102.1,1503.3C1092.8,1498.8 1088.2,1494.1 1083.6,1488.5C1079.0,1482.9 1076.6,1476.4 1074.3,1469.9C1072.0,1463.4 1070.4,1452.9 1069.6,1449.5Z" fill="#fff" stroke="none"/>
<path d="M1068.9,1141.4C1067.8,1140.3 1067.1,1137.0 1062.3,1134.6C1057.5,1132.2 1047.3,1128.7 1040.0,1127.0C1032.7,1125.3 1028.5,1124.3 1018.7,1124.2C1008.9,1124.1 990.2,1125.4 981.2,1126.2C972.2,1127.0 970.8,1127.4 965.0,1128.9C959.2,1130.4 953.8,1132.5 946.5,1135.2C939.2,1137.9 929.6,1141.3 921.2,1145.3C912.8,1149.3 904.4,1154.0 896.0,1159.2C887.6,1164.5 878.1,1171.3 870.7,1176.8C863.3,1182.3 857.3,1187.2 851.8,1192.0C846.3,1196.8 842.1,1201.3 837.9,1205.9C833.7,1210.5 830.2,1214.8 826.6,1219.8C823.0,1224.8 819.5,1230.5 816.5,1236.2C813.5,1241.9 811.1,1248.2 808.9,1253.9C806.7,1259.6 804.8,1263.3 803.2,1270.2C801.6,1277.1 800.1,1286.8 799.4,1295.2C798.7,1303.6 798.4,1312.1 798.8,1320.5C799.2,1328.9 800.5,1337.7 802.0,1345.7C803.5,1353.7 805.2,1360.8 807.6,1368.4C810.0,1376.0 812.6,1382.8 816.5,1391.2C820.4,1399.6 826.5,1410.3 831.1,1418.6C835.7,1426.9 839.2,1434.0 844.1,1440.8C849.0,1447.6 855.5,1453.8 860.8,1459.4C866.1,1465.0 870.8,1469.6 875.7,1474.2C880.7,1478.8 884.9,1482.2 890.5,1487.2C896.1,1492.2 902.3,1499.2 909.1,1503.9C915.9,1508.6 923.0,1511.8 931.4,1515.1C939.8,1518.3 949.9,1521.9 959.2,1523.4C968.5,1525.0 977.7,1524.9 987.0,1524.4C996.3,1523.9 1005.6,1523.4 1014.9,1520.6C1024.2,1517.8 1035.3,1512.5 1042.7,1507.6C1050.1,1502.6 1055.4,1497.1 1059.4,1490.9C1063.4,1484.7 1065.1,1477.3 1066.8,1470.5C1068.5,1463.7 1069.0,1453.5 1069.4,1450.1" fill="none" stroke="#231f20" stroke-width="2.5"/>
<path d="M1068.9,1141.4C1070.4,1140.3 1073.0,1137.7 1077.6,1135.0C1082.2,1132.3 1090.3,1127.3 1096.6,1125.0C1102.9,1122.7 1108.2,1122.0 1115.5,1121.2C1122.8,1120.4 1132.3,1119.5 1140.7,1119.9C1149.1,1120.3 1157.6,1122.0 1166.0,1123.7C1174.4,1125.4 1182.8,1127.7 1191.2,1130.0C1199.6,1132.3 1210.1,1135.8 1216.5,1137.6C1222.9,1139.4 1223.3,1138.0 1229.6,1140.6C1235.9,1143.2 1246.1,1148.2 1254.4,1153.0C1262.7,1157.8 1271.8,1163.7 1279.2,1169.1C1286.6,1174.5 1293.2,1179.6 1299.0,1185.2C1304.8,1190.8 1308.9,1195.8 1313.9,1202.6C1318.9,1209.4 1324.2,1216.4 1328.8,1226.1C1333.4,1235.8 1338.8,1249.1 1341.3,1260.6C1343.8,1272.1 1344.4,1283.8 1344.0,1295.0C1343.6,1306.2 1341.3,1316.1 1339.1,1327.8C1336.9,1339.5 1334.6,1354.6 1330.6,1365.0C1326.6,1375.4 1319.7,1381.3 1315.0,1390.1C1310.3,1398.9 1307.1,1409.7 1302.6,1418.0C1298.0,1426.3 1293.3,1432.8 1287.7,1440.2C1282.1,1447.6 1276.0,1455.4 1269.2,1462.5C1262.4,1469.6 1256.2,1476.1 1246.9,1482.9C1237.6,1489.7 1225.2,1498.2 1213.5,1503.3C1201.8,1508.4 1188.8,1511.5 1176.4,1513.5C1164.0,1515.5 1151.6,1517.1 1139.2,1515.4C1126.8,1513.7 1111.4,1507.8 1102.1,1503.3C1092.8,1498.8 1088.2,1494.1 1083.6,1488.5C1079.0,1482.9 1076.6,1476.4 1074.3,1469.9C1072.0,1463.4 1070.4,1452.9 1069.6,1449.5" fill="none" stroke="#231f20" stroke-width="2.5"/>
<line x1="1068.9" y1="1141.4" x2="1068.9" y2="1450" stroke="#231f20" stroke-width="1.9"/>
<path d="M919.5,1378.1C919.4,1376.6 920.0,1372.9 919.0,1369.2C918.0,1365.5 914.7,1360.5 913.4,1355.8C912.1,1351.1 912.1,1346.5 911.2,1341.3C910.3,1336.1 908.7,1328.7 907.8,1324.6C906.9,1320.5 905.8,1320.7 905.6,1316.8C905.4,1312.9 905.6,1306.0 906.7,1301.2C907.8,1296.4 909.5,1292.9 912.3,1287.9C915.1,1282.9 919.3,1275.9 923.4,1271.2C927.5,1266.5 931.2,1263.3 936.8,1260.0C942.4,1256.7 949.0,1253.7 957.0,1251.2C965.0,1248.7 978.7,1246.1 984.6,1245.0C990.5,1243.9 989.6,1243.3 992.4,1244.5C995.2,1245.7 999.0,1249.1 1001.4,1252.3C1003.8,1255.5 1005.0,1258.8 1006.9,1263.4C1008.8,1268.0 1010.8,1274.2 1012.5,1280.1C1014.2,1286.0 1015.7,1292.9 1017.0,1299.0C1018.3,1305.1 1019.4,1310.7 1020.3,1316.8C1021.2,1322.9 1022.1,1329.8 1022.6,1335.8C1023.1,1341.8 1023.5,1348.3 1023.1,1352.5C1022.7,1356.7 1020.8,1359.6 1020.3,1361.0" fill="none" stroke="#231f20" stroke-width="2.6" stroke-linejoin="round"/>
<path d="M919.5,1378.1C919.6,1373.8 920.6,1358.1 920.1,1352.5C919.6,1346.9 916.9,1348.4 916.2,1344.7C915.6,1341.0 915.7,1335.8 916.2,1330.2C916.7,1324.6 917.4,1316.9 919.0,1311.3C920.6,1305.7 922.6,1301.2 925.6,1296.8C928.6,1292.3 932.3,1287.9 936.8,1284.6C941.3,1281.3 947.2,1278.2 952.4,1276.8C957.6,1275.4 963.2,1275.5 968.0,1276.2C972.8,1276.9 977.6,1279.1 981.3,1281.2C985.0,1283.3 987.4,1286.0 990.2,1289.0C993.0,1292.0 995.0,1295.8 998.0,1299.0C1001.0,1302.2 1005.3,1304.6 1008.1,1307.9C1010.9,1311.2 1013.0,1315.4 1014.7,1319.1C1016.4,1322.8 1017.2,1324.6 1018.1,1330.2C1019.0,1335.8 1019.9,1347.4 1020.3,1352.5C1020.7,1357.6 1020.3,1359.6 1020.3,1361.0" fill="none" stroke="#231f20" stroke-width="2.4" stroke-linejoin="round"/>
<path d="M998.0,1262.3C999.5,1264.3 1004.5,1270.2 1006.9,1274.5C1009.3,1278.8 1010.8,1283.2 1012.5,1287.9C1014.2,1292.6 1015.7,1295.4 1017.0,1302.4C1018.3,1309.4 1019.9,1325.4 1020.5,1330.0" fill="none" stroke="#231f20" stroke-width="1.6" stroke-linejoin="round"/>
<path d="M1116.7,1363.6C1116.5,1359.9 1115.7,1348.8 1115.6,1341.4C1115.5,1334.0 1115.4,1326.5 1116.1,1319.1C1116.8,1311.7 1118.0,1303.8 1120.0,1296.8C1122.0,1289.8 1125.0,1282.7 1127.8,1276.8C1130.6,1270.9 1133.5,1266.0 1136.7,1261.2C1139.9,1256.4 1143.6,1250.8 1146.8,1247.8C1150.0,1244.8 1152.4,1244.1 1155.7,1243.4C1159.0,1242.7 1161.2,1242.7 1166.8,1243.4C1172.4,1244.1 1181.7,1245.8 1189.1,1247.8C1196.5,1249.8 1204.9,1252.1 1211.4,1255.6C1217.9,1259.1 1223.8,1264.0 1228.1,1269.0C1232.4,1274.0 1234.8,1280.1 1237.0,1285.7C1239.2,1291.3 1240.9,1296.8 1241.4,1302.4C1242.0,1308.0 1241.6,1313.9 1240.3,1319.1C1239.0,1324.3 1235.6,1329.0 1233.6,1333.6C1231.6,1338.2 1229.4,1341.9 1228.1,1346.9C1226.8,1351.9 1226.5,1358.4 1225.8,1363.6C1225.0,1368.8 1224.0,1375.6 1223.6,1378.0" fill="none" stroke="#231f20" stroke-width="2.6" stroke-linejoin="round"/>
<path d="M1117.8,1324.7C1119.5,1322.3 1123.3,1315.6 1127.8,1310.2C1132.2,1304.8 1139.8,1297.4 1144.5,1292.4C1149.2,1287.4 1151.0,1283.5 1155.7,1280.1C1160.4,1276.7 1166.8,1273.3 1172.4,1271.8C1178.0,1270.3 1183.5,1270.5 1189.1,1271.2C1194.7,1271.9 1200.6,1273.5 1205.8,1275.7C1211.0,1277.9 1216.2,1280.7 1220.3,1284.6C1224.4,1288.5 1228.2,1294.2 1230.3,1299.0C1232.4,1303.8 1233.3,1308.8 1233.1,1313.5C1232.9,1318.2 1231.0,1322.6 1229.2,1326.9C1227.4,1331.2 1224.0,1334.8 1222.5,1339.1C1221.0,1343.4 1220.4,1346.5 1220.3,1352.5C1220.2,1358.5 1221.4,1370.5 1221.9,1374.8C1222.5,1379.0 1223.3,1377.5 1223.6,1378.0" fill="none" stroke="#231f20" stroke-width="2.4" stroke-linejoin="round"/>
<path d="M1145.7,1260.1C1143.9,1262.1 1138.3,1267.7 1135.0,1272.0C1131.7,1276.3 1128.1,1281.0 1125.6,1285.7C1123.1,1290.4 1120.9,1297.6 1120.0,1300.0" fill="none" stroke="#231f20" stroke-width="1.6" stroke-linejoin="round"/>
<line x1="1117" y1="1300" x2="1116.5" y2="1362" stroke="#231f20" stroke-width="3.4"/>
<ellipse cx="977.8" cy="1410.5" rx="13.5" ry="15" transform="rotate(28 977.8 1410.5)" fill="none" stroke="#231f20" stroke-width="2.4"/>
<ellipse cx="1156" cy="1408.5" rx="13" ry="13.8" transform="rotate(-28 1156 1408.5)" fill="none" stroke="#231f20" stroke-width="2.4"/>
<path d="M860.8,1459.4C862.7,1459.7 868.6,1459.7 872.0,1461.2C875.4,1462.8 878.4,1465.3 881.2,1468.7C884.0,1472.1 887.2,1478.6 888.7,1481.7C890.2,1484.8 890.2,1486.3 890.5,1487.2" fill="none" stroke="#231f20" stroke-width="1.8" stroke-linejoin="round"/>
<path d="M1248.7,1481.1C1249.6,1478.9 1251.5,1472.4 1254.3,1468.1C1257.1,1463.8 1261.1,1458.5 1265.4,1455.1C1269.7,1451.7 1277.8,1448.8 1280.3,1447.6" fill="none" stroke="#231f20" stroke-width="1.8" stroke-linejoin="round"/>
<path d="M1280.3,1447.6C1277.2,1451.3 1267.0,1464.3 1261.7,1469.9C1256.4,1475.5 1250.9,1479.2 1248.7,1481.1" fill="none" stroke="#231f20" stroke-width="1.3" stroke-linejoin="round"/>
<path d="M981.2,1126.2L985.4,1244.7" fill="none" stroke="#231f20" stroke-width="2.1" stroke-dasharray="4.2,2.3"/>
<path d="M1063.4,1135.6L990.6,1244.7" fill="none" stroke="#231f20" stroke-width="2.1" stroke-dasharray="4.2,2.3"/>
<path d="M1068.9,1184.4L997.9,1245.8" fill="none" stroke="#231f20" stroke-width="2.1" stroke-dasharray="4.2,2.3"/>
<path d="M868.2,1180.0L932.6,1261.4" fill="none" stroke="#231f20" stroke-width="2.1" stroke-dasharray="4.2,2.3"/>
<path d="M850.5,1193.3L923.8,1269.0" fill="none" stroke="#231f20" stroke-width="2.1" stroke-dasharray="4.2,2.3"/>
<path d="M835.4,1195.8L853.1,1190.1" fill="none" stroke="#231f20" stroke-width="2.1" stroke-dasharray="4.2,2.3"/>
<path d="M800.0,1324.9L906.1,1321.7" fill="none" stroke="#231f20" stroke-width="2.1" stroke-dasharray="4.2,2.3"/>
<path d="M802.6,1343.2L898.5,1337.5" fill="none" stroke="#231f20" stroke-width="2.1" stroke-dasharray="4.2,2.3"/>
<path d="M807.6,1363.4L894.7,1350.2" fill="none" stroke="#231f20" stroke-width="2.1" stroke-dasharray="4.2,2.3"/>
<path d="M816.5,1390.5L894.1,1365.9" fill="none" stroke="#231f20" stroke-width="2.1" stroke-dasharray="4.2,2.3"/>
<path d="M831.0,1418.3L904.8,1388.0" fill="none" stroke="#231f20" stroke-width="2.1" stroke-dasharray="4.2,2.3"/>
<path d="M906.1,1321.7C905.0,1324.0 901.5,1331.2 899.8,1335.6C898.1,1340.0 896.9,1343.2 896.0,1348.3C895.1,1353.3 894.3,1360.4 894.7,1365.9C895.1,1371.4 896.8,1377.4 898.5,1381.1C900.2,1384.8 901.6,1386.3 904.8,1388.0C908.0,1389.7 915.0,1392.6 917.5,1391.2C920.0,1389.8 919.6,1381.7 920.0,1379.8" fill="none" stroke="#231f20" stroke-width="2.1" stroke-dasharray="4.2,2.3"/>
<path d="M904.8,1388.0C902.5,1389.8 893.6,1395.2 891.0,1398.7C888.4,1402.2 888.9,1405.0 889.1,1408.8C889.3,1412.6 889.2,1418.1 892.2,1421.5C895.2,1424.9 901.8,1429.3 907.3,1429.1C912.8,1428.9 923.5,1424.2 925.0,1420.2C926.5,1416.2 917.6,1409.9 916.2,1405.1C914.8,1400.3 916.7,1393.5 916.8,1391.2" fill="none" stroke="#231f20" stroke-width="2.1" stroke-dasharray="4.2,2.3"/>
<path d="M925.0,1420.2C927.7,1421.9 939.1,1425.9 941.4,1430.3C943.7,1434.7 939.6,1440.0 938.9,1446.4C938.1,1452.8 937.2,1465.0 936.9,1468.7" fill="none" stroke="#231f20" stroke-width="2.1" stroke-dasharray="4.2,2.3"/>
<path d="M907.3,1429.1C909.1,1432.0 915.0,1441.1 918.4,1446.4C921.8,1451.8 925.4,1457.2 927.6,1461.2C929.8,1465.2 930.8,1469.0 931.4,1470.5" fill="none" stroke="#231f20" stroke-width="2.1" stroke-dasharray="4.2,2.3"/>
<path d="M844.1,1411.1C844.4,1413.3 843.8,1420.4 846.0,1424.1C848.2,1427.8 852.1,1431.5 857.1,1433.4C862.1,1435.3 869.5,1433.5 875.7,1435.3C881.9,1437.1 889.2,1440.8 894.2,1444.5C899.2,1448.2 902.9,1453.2 905.4,1457.5C907.9,1461.8 908.5,1468.3 909.1,1470.5" fill="none" stroke="#231f20" stroke-width="2.1" stroke-dasharray="4.2,2.3"/>
<path d="M849.7,1412.0C849.4,1415.6 845.9,1428.3 847.8,1433.4C849.6,1438.5 855.5,1440.9 860.8,1442.7C866.1,1444.5 873.8,1442.3 879.4,1444.5C885.0,1446.7 890.8,1452.0 894.2,1455.7C897.6,1459.4 898.5,1463.4 899.8,1466.8C901.0,1470.2 901.4,1474.5 901.7,1476.1" fill="none" stroke="#231f20" stroke-width="2.1" stroke-dasharray="4.2,2.3"/>
<path d="M896.1,1481.7C898.9,1480.3 906.3,1475.2 912.8,1473.3C919.3,1471.4 928.3,1469.9 935.1,1470.5C941.9,1471.1 945.6,1475.5 953.6,1477.0C961.6,1478.5 973.1,1480.3 983.3,1479.8C993.5,1479.3 1005.0,1476.4 1014.9,1474.2C1024.8,1472.0 1035.3,1469.0 1042.7,1466.8C1050.1,1464.6 1056.6,1462.1 1059.4,1461.2" fill="none" stroke="#231f20" stroke-width="2.1" stroke-dasharray="4.2,2.3"/>
<path d="M898.0,1488.0C901.1,1490.2 907.9,1497.6 916.5,1501.5C925.1,1505.4 938.1,1509.5 949.9,1511.5C961.6,1513.5 974.6,1514.0 987.0,1513.2C999.4,1512.4 1012.3,1511.5 1024.2,1506.5C1036.1,1501.5 1052.9,1486.9 1058.6,1483.0" fill="none" stroke="#231f20" stroke-width="2.1" stroke-dasharray="4.2,2.3"/>
<path d="M902.0,1495.0C904.7,1496.8 910.0,1502.3 918.0,1506.0C926.0,1509.7 938.4,1514.9 949.9,1517.0C961.4,1519.1 974.6,1519.4 987.0,1518.6C999.4,1517.8 1012.9,1516.6 1024.2,1512.0C1035.5,1507.4 1049.9,1494.5 1055.0,1491.0" fill="none" stroke="#231f20" stroke-width="2.1" stroke-dasharray="4.2,2.3"/>
<path d="M1019.7,1357.3C1014.8,1361.7 998.5,1376.0 990.0,1383.4C981.5,1390.8 974.0,1395.4 968.5,1401.9C963.0,1408.4 959.5,1416.1 957.3,1422.3C955.1,1428.5 954.0,1434.7 955.5,1439.0C957.0,1443.3 960.9,1446.7 966.6,1448.3C972.4,1449.9 983.1,1449.5 990.0,1448.8C996.9,1448.1 1003.0,1446.4 1007.8,1444.0C1012.5,1441.6 1016.3,1438.7 1018.5,1434.5C1020.7,1430.3 1021.3,1426.6 1020.9,1419.1C1020.5,1411.6 1016.5,1397.9 1016.1,1389.4C1015.7,1380.9 1017.9,1373.3 1018.5,1368.0C1019.1,1362.7 1019.5,1359.1 1019.7,1357.3" fill="none" stroke="#231f20" stroke-width="2.1" stroke-dasharray="4.2,2.3"/>
<path d="M1019.7,1357.3C1022.4,1363.6 1030.7,1382.1 1036.0,1395.0C1041.3,1407.9 1047.6,1423.6 1051.8,1434.5C1056.0,1445.4 1059.7,1456.2 1061.3,1460.6" fill="none" stroke="#231f20" stroke-width="2.1" stroke-dasharray="4.2,2.3"/>
<path d="M1061.3,1404.8C1060.5,1410.2 1058.1,1430.4 1056.5,1436.9C1054.9,1443.4 1053.6,1440.0 1051.8,1444.0C1050.0,1448.0 1046.8,1457.8 1045.8,1460.6" fill="none" stroke="#231f20" stroke-width="2.1" stroke-dasharray="4.2,2.3"/>
<path d="M1010.4,1268.6L1068.9,1267.6" fill="none" stroke="#231f20" stroke-width="2.1" stroke-dasharray="4.2,2.3"/>
<path d="M1021.8,1321.6L1068.9,1320.6" fill="none" stroke="#231f20" stroke-width="2.1" stroke-dasharray="4.2,2.3"/>
<path d="M1024.4,1350.2C1026.6,1351.1 1032.3,1354.4 1037.5,1355.5C1042.7,1356.6 1050.1,1357.0 1055.3,1356.7C1060.5,1356.4 1064.0,1353.8 1068.9,1353.8C1073.9,1353.8 1079.3,1356.7 1085.0,1356.7C1090.7,1356.7 1098.2,1355.1 1102.8,1353.8C1107.3,1352.5 1110.7,1349.8 1112.3,1349.0" fill="none" stroke="#231f20" stroke-width="2.1" stroke-dasharray="4.2,2.3"/>
<path d="M1054.1,1357.3C1053.9,1359.1 1052.3,1363.5 1052.9,1368.0C1053.5,1372.5 1057.1,1379.4 1057.7,1384.6C1058.3,1389.8 1055.9,1395.7 1056.5,1398.9C1057.1,1402.1 1059.7,1404.0 1061.3,1403.6C1062.9,1403.2 1065.4,1399.3 1066.0,1396.5C1066.6,1393.7 1064.8,1392.2 1064.8,1387.0C1064.8,1381.8 1066.6,1370.5 1066.0,1365.6C1065.4,1360.6 1062.1,1358.7 1061.3,1357.3" fill="none" stroke="#231f20" stroke-width="2.1" stroke-dasharray="4.2,2.3"/>
<path d="M1028.0,1356.1C1028.6,1357.7 1031.6,1362.0 1031.6,1365.6C1031.6,1369.2 1028.6,1375.5 1028.0,1377.5" fill="none" stroke="#231f20" stroke-width="2.1" stroke-dasharray="4.2,2.3"/>
<path d="M1080.2,1138.1L1151.6,1244.7" fill="none" stroke="#231f20" stroke-width="2.1" stroke-dasharray="4.2,2.3"/>
<path d="M1068.9,1186.1L1142.0,1254.2" fill="none" stroke="#231f20" stroke-width="2.1" stroke-dasharray="4.2,2.3"/>
<path d="M1170.8,1128.5L1160.1,1242.5" fill="none" stroke="#231f20" stroke-width="2.1" stroke-dasharray="4.2,2.3"/>
<path d="M1292.3,1180.7L1219.8,1259.6" fill="none" stroke="#231f20" stroke-width="2.1" stroke-dasharray="4.2,2.3"/>
<path d="M1305.0,1192.4L1228.3,1267.0" fill="none" stroke="#231f20" stroke-width="2.1" stroke-dasharray="4.2,2.3"/>
<path d="M1243.2,1304.3L1253.9,1305.4" fill="none" stroke="#231f20" stroke-width="2.1" stroke-dasharray="4.2,2.3"/>
<path d="M1251.8,1339.5L1332.7,1346.9" fill="none" stroke="#231f20" stroke-width="2.1" stroke-dasharray="4.2,2.3"/>
<path d="M1249.6,1359.7L1320.0,1373.6" fill="none" stroke="#231f20" stroke-width="2.1" stroke-dasharray="4.2,2.3"/>
<path d="M1248.7,1384.5L1307.2,1399.1" fill="none" stroke="#231f20" stroke-width="2.1" stroke-dasharray="4.2,2.3"/>
<path d="M1241.1,1305.0C1241.9,1308.3 1244.4,1318.3 1246.0,1325.0C1247.6,1331.7 1250.1,1338.3 1250.5,1345.0C1250.9,1351.7 1250.2,1359.3 1248.5,1365.0C1246.8,1370.7 1243.7,1376.7 1240.0,1379.0C1236.3,1381.3 1228.5,1378.8 1226.2,1378.8" fill="none" stroke="#231f20" stroke-width="2.1" stroke-dasharray="4.2,2.3"/>
<path d="M1226.5,1379.0C1228.3,1379.3 1233.9,1379.9 1237.6,1380.8C1241.3,1381.7 1245.9,1382.6 1248.7,1384.5C1251.5,1386.4 1254.0,1388.6 1254.3,1392.0C1254.6,1395.4 1254.6,1400.0 1250.6,1405.0C1246.6,1410.0 1236.4,1420.5 1230.2,1421.7C1224.0,1422.9 1214.7,1415.5 1213.5,1412.4C1212.3,1409.3 1221.0,1407.1 1222.8,1403.1C1224.6,1399.1 1224.6,1392.5 1224.6,1388.3C1224.6,1384.1 1223.1,1379.7 1222.8,1378.0" fill="none" stroke="#231f20" stroke-width="2.1" stroke-dasharray="4.2,2.3"/>
<path d="M1213.5,1412.4C1210.1,1414.6 1195.6,1421.1 1193.1,1425.4C1190.6,1429.7 1197.1,1433.5 1198.6,1438.4C1200.1,1443.4 1200.8,1451.4 1202.3,1455.1C1203.8,1458.8 1207.0,1459.7 1207.9,1460.6" fill="none" stroke="#231f20" stroke-width="2.1" stroke-dasharray="4.2,2.3"/>
<path d="M1230.2,1421.7C1228.7,1424.8 1224.0,1434.3 1220.9,1440.2C1217.8,1446.1 1213.1,1454.1 1211.6,1456.9" fill="none" stroke="#231f20" stroke-width="2.1" stroke-dasharray="4.2,2.3"/>
<path d="M1285.9,1397.5C1286.8,1399.7 1292.3,1406.8 1291.4,1410.5C1290.5,1414.2 1285.5,1417.3 1280.3,1419.8C1275.0,1422.3 1266.4,1422.0 1259.9,1425.4C1253.4,1428.8 1246.0,1435.2 1241.3,1440.2C1236.6,1445.2 1233.8,1450.8 1232.0,1455.1C1230.2,1459.4 1230.5,1464.3 1230.2,1466.2" fill="none" stroke="#231f20" stroke-width="2.1" stroke-dasharray="4.2,2.3"/>
<path d="M1291.0,1399.0C1292.2,1401.3 1298.8,1408.5 1298.0,1413.0C1297.2,1417.5 1291.3,1422.8 1286.0,1426.0C1280.7,1429.2 1272.2,1428.8 1266.0,1432.0C1259.8,1435.2 1253.2,1440.7 1249.0,1445.0C1244.8,1449.3 1242.8,1454.0 1241.0,1458.0C1239.2,1462.0 1238.5,1467.2 1238.0,1469.0" fill="none" stroke="#231f20" stroke-width="2.1" stroke-dasharray="4.2,2.3"/>
<path d="M1083.6,1456.9C1088.2,1459.1 1102.1,1465.9 1111.4,1469.9C1120.7,1473.9 1131.5,1479.1 1139.2,1481.1C1146.9,1483.1 1150.1,1483.9 1157.8,1482.0C1165.5,1480.1 1176.9,1473.5 1185.6,1469.9C1194.3,1466.3 1202.7,1461.2 1209.8,1460.6C1216.9,1460.0 1222.7,1464.0 1228.3,1466.2C1233.9,1468.4 1240.7,1472.4 1243.2,1473.6" fill="none" stroke="#231f20" stroke-width="2.1" stroke-dasharray="4.2,2.3"/>
<path d="M1084.0,1482.0C1088.6,1484.3 1100.7,1492.4 1111.4,1496.0C1122.2,1499.6 1136.1,1502.8 1148.5,1503.5C1160.9,1504.2 1173.2,1502.8 1185.6,1500.0C1198.0,1497.2 1213.7,1491.3 1222.8,1487.0C1231.9,1482.7 1237.1,1476.2 1240.0,1474.0" fill="none" stroke="#231f20" stroke-width="2.1" stroke-dasharray="4.2,2.3"/>
<path d="M1088.0,1490.0C1093.5,1492.3 1109.1,1500.8 1120.7,1504.0C1132.3,1507.2 1145.4,1509.1 1157.8,1509.0C1170.2,1508.9 1182.5,1507.0 1194.9,1503.5C1207.3,1500.0 1224.2,1492.1 1232.0,1488.0C1239.8,1483.9 1240.3,1480.5 1242.0,1479.0" fill="none" stroke="#231f20" stroke-width="2.1" stroke-dasharray="4.2,2.3"/>
<path d="M1118.8,1364.1C1118.5,1369.4 1117.2,1385.8 1117.0,1395.7C1116.8,1405.6 1116.1,1416.4 1117.9,1423.5C1119.8,1430.6 1122.1,1434.2 1128.1,1438.4C1134.1,1442.6 1146.0,1447.5 1154.1,1448.6C1162.1,1449.7 1171.0,1448.2 1176.4,1444.9C1181.8,1441.7 1185.4,1434.8 1186.6,1429.1C1187.8,1423.4 1186.8,1416.1 1183.8,1410.5C1180.8,1404.9 1174.8,1400.0 1168.9,1395.7C1163.0,1391.4 1154.7,1387.9 1148.5,1384.5C1142.3,1381.1 1136.8,1378.7 1131.8,1375.3C1126.8,1371.9 1121.0,1366.0 1118.8,1364.1" fill="none" stroke="#231f20" stroke-width="2.1" stroke-dasharray="4.2,2.3"/>
<path d="M1115.9,1364.4C1114.7,1367.0 1112.0,1372.8 1108.8,1379.9C1105.6,1387.0 1100.5,1397.7 1096.9,1407.2C1093.3,1416.7 1089.0,1432.0 1087.4,1436.9" fill="none" stroke="#231f20" stroke-width="2.1" stroke-dasharray="4.2,2.3"/>
<path d="M1080.3,1357.3C1079.5,1360.7 1076.3,1370.2 1075.5,1377.5C1074.7,1384.8 1074.5,1398.1 1075.5,1401.3C1076.5,1404.5 1080.0,1398.9 1081.4,1396.5C1082.8,1394.1 1082.6,1392.9 1083.8,1387.0C1085.0,1381.1 1087.8,1365.2 1088.6,1360.9" fill="none" stroke="#231f20" stroke-width="2.1" stroke-dasharray="4.2,2.3"/>
<path d="M1080.3,1403.6C1081.1,1409.1 1083.8,1429.4 1085.0,1436.9C1086.2,1444.4 1087.6,1445.2 1087.4,1448.8C1087.2,1452.4 1084.4,1456.7 1083.8,1458.3" fill="none" stroke="#231f20" stroke-width="2.1" stroke-dasharray="4.2,2.3"/>
<path d="M1112.3,1350.2C1111.3,1352.8 1107.2,1361.0 1106.4,1365.6C1105.6,1370.1 1107.4,1375.5 1107.6,1377.5" fill="none" stroke="#231f20" stroke-width="2.1" stroke-dasharray="4.2,2.3"/>
<path d="M1068.9,1267.0L1132.5,1267.0" fill="none" stroke="#231f20" stroke-width="2.1" stroke-dasharray="4.2,2.3"/>
<path d="M1068.9,1322.4L1114.3,1320.3" fill="none" stroke="#231f20" stroke-width="2.1" stroke-dasharray="4.2,2.3"/>
<path d="M922.0,1474.0C924.0,1471.7 931.0,1471.7 936.0,1472.0C941.0,1472.3 949.2,1473.5 952.0,1476.0C954.8,1478.5 955.0,1485.7 953.0,1487.0C951.0,1488.3 944.8,1484.2 940.0,1484.0C935.2,1483.8 927.0,1487.7 924.0,1486.0C921.0,1484.3 920.0,1476.3 922.0,1474.0Z" fill="none" stroke="#231f20" stroke-width="1.5" stroke-dasharray="3,1.8"/>
<path d="M958.0,1490.0C959.3,1487.5 967.7,1485.5 970.0,1487.0C972.3,1488.5 973.3,1496.5 972.0,1499.0C970.7,1501.5 964.3,1503.5 962.0,1502.0C959.7,1500.5 956.7,1492.5 958.0,1490.0Z" fill="none" stroke="#231f20" stroke-width="1.5" stroke-dasharray="3,1.8"/>
<path d="M984.0,1482.0C986.3,1479.2 997.2,1477.7 1000.0,1480.0C1002.8,1482.3 1003.3,1493.2 1001.0,1496.0C998.7,1498.8 988.8,1499.3 986.0,1497.0C983.2,1494.7 981.7,1484.8 984.0,1482.0Z" fill="none" stroke="#231f20" stroke-width="1.5" stroke-dasharray="3,1.8"/>
<path d="M1010.0,1476.0C1012.0,1473.2 1019.7,1472.3 1024.0,1472.0C1028.3,1471.7 1034.3,1471.5 1036.0,1474.0C1037.7,1476.5 1036.7,1485.0 1034.0,1487.0C1031.3,1489.0 1023.7,1485.7 1020.0,1486.0C1016.3,1486.3 1013.7,1490.7 1012.0,1489.0C1010.3,1487.3 1008.0,1478.8 1010.0,1476.0Z" fill="none" stroke="#231f20" stroke-width="1.5" stroke-dasharray="3,1.8"/>
<path d="M1099.0,1467.0C1099.8,1465.8 1103.3,1467.3 1104.0,1469.0C1104.7,1470.7 1103.8,1475.8 1103.0,1477.0C1102.2,1478.2 1099.7,1477.7 1099.0,1476.0C1098.3,1474.3 1098.2,1468.2 1099.0,1467.0Z" fill="none" stroke="#231f20" stroke-width="1.5" stroke-dasharray="3,1.8"/>
<path d="M1121.0,1480.0C1122.0,1477.3 1129.7,1477.0 1134.0,1478.0C1138.3,1479.0 1145.3,1482.8 1147.0,1486.0C1148.7,1489.2 1147.2,1495.7 1144.0,1497.0C1140.8,1498.3 1131.8,1496.8 1128.0,1494.0C1124.2,1491.2 1120.0,1482.7 1121.0,1480.0Z" fill="none" stroke="#231f20" stroke-width="1.5" stroke-dasharray="3,1.8"/>
<path d="M1158.0,1477.0C1160.5,1474.7 1169.3,1474.7 1175.0,1474.0C1180.7,1473.3 1189.2,1471.3 1192.0,1473.0C1194.8,1474.7 1195.3,1481.7 1192.0,1484.0C1188.7,1486.3 1177.3,1486.3 1172.0,1487.0C1166.7,1487.7 1162.3,1489.7 1160.0,1488.0C1157.7,1486.3 1155.5,1479.3 1158.0,1477.0Z" fill="none" stroke="#231f20" stroke-width="1.5" stroke-dasharray="3,1.8"/>
<path d="M1190.0,1462.0C1191.3,1459.3 1204.3,1458.7 1208.0,1460.0C1211.7,1461.3 1213.3,1467.3 1212.0,1470.0C1210.7,1472.7 1203.7,1477.3 1200.0,1476.0C1196.3,1474.7 1188.7,1464.7 1190.0,1462.0Z" fill="none" stroke="#231f20" stroke-width="1.5" stroke-dasharray="3,1.8"/>
<polygon points="1019.5,1273.6000000000001 1026.8,1280.9 1019.5,1288.2 1012.2,1280.9" fill="#231f20"/>
<circle cx="1028.2" cy="1287.6" r="6.0" fill="#231f20"/>
<circle cx="1033.5" cy="1296.8" r="5.2" fill="#fff" stroke="#231f20" stroke-width="1.5"/>
<circle cx="1047.5" cy="1282.8" r="6.0" fill="#231f20"/>
<polygon points="1051.8,1271.6 1058.2,1278 1051.8,1284.4 1045.3999999999999,1278" fill="#fff" stroke="#231f20" stroke-width="1.5"/>
<polygon points="1060.5,1271.7 1067.8,1279 1060.5,1286.3 1053.2,1279" fill="#231f20"/>
<polygon points="1062,1286.6000000000001 1069.3,1293.9 1062,1301.2 1054.7,1293.9" fill="#231f20"/>
<circle cx="1052.8" cy="1299.2" r="5.2" fill="#fff" stroke="#231f20" stroke-width="1.5"/>
<polygon points="1089.5,1255.1999999999998 1095.9,1261.6 1089.5,1268.0 1083.1,1261.6" fill="#fff" stroke="#231f20" stroke-width="1.5"/>
<circle cx="1076.9" cy="1289.6" r="6.0" fill="#231f20"/>
<polygon points="1076.9,1296.3 1084.2,1303.6 1076.9,1310.8999999999999 1069.6000000000001,1303.6" fill="#231f20"/>
<circle cx="1088.5" cy="1296.8" r="5.2" fill="#fff" stroke="#231f20" stroke-width="1.5"/>
<circle cx="1102" cy="1296.8" r="5.2" fill="#fff" stroke="#231f20" stroke-width="1.5"/>
<circle cx="1108.8" cy="1288.1" r="6.0" fill="#231f20"/>
<polygon points="1109.7,1294.8 1117.0,1302.1 1109.7,1309.3999999999999 1102.4,1302.1" fill="#231f20"/>
<polygon points="1119.4,1271.7 1126.7,1279 1119.4,1286.3 1112.1000000000001,1279" fill="#231f20"/>
<rect x="1255" y="1262" width="92" height="64" fill="#fff"/>
<path d="M763,0L583,0L583,1147C540,1106 483,1064 413,1023C343,982 280,952 223,933L223,1107C324,1154 412,1212 487,1279C562,1346 615,1412 646,1466L763,1466Z" transform="translate(1267.92,1308.90) scale(0.01831,-0.01831)" fill="#231f20"/>
<text x="1288.77" y="1308.9" style="font-size:37.5px;" fill="#231f20" xml:space="preserve">.54</text>
</svg>
</body></html>
